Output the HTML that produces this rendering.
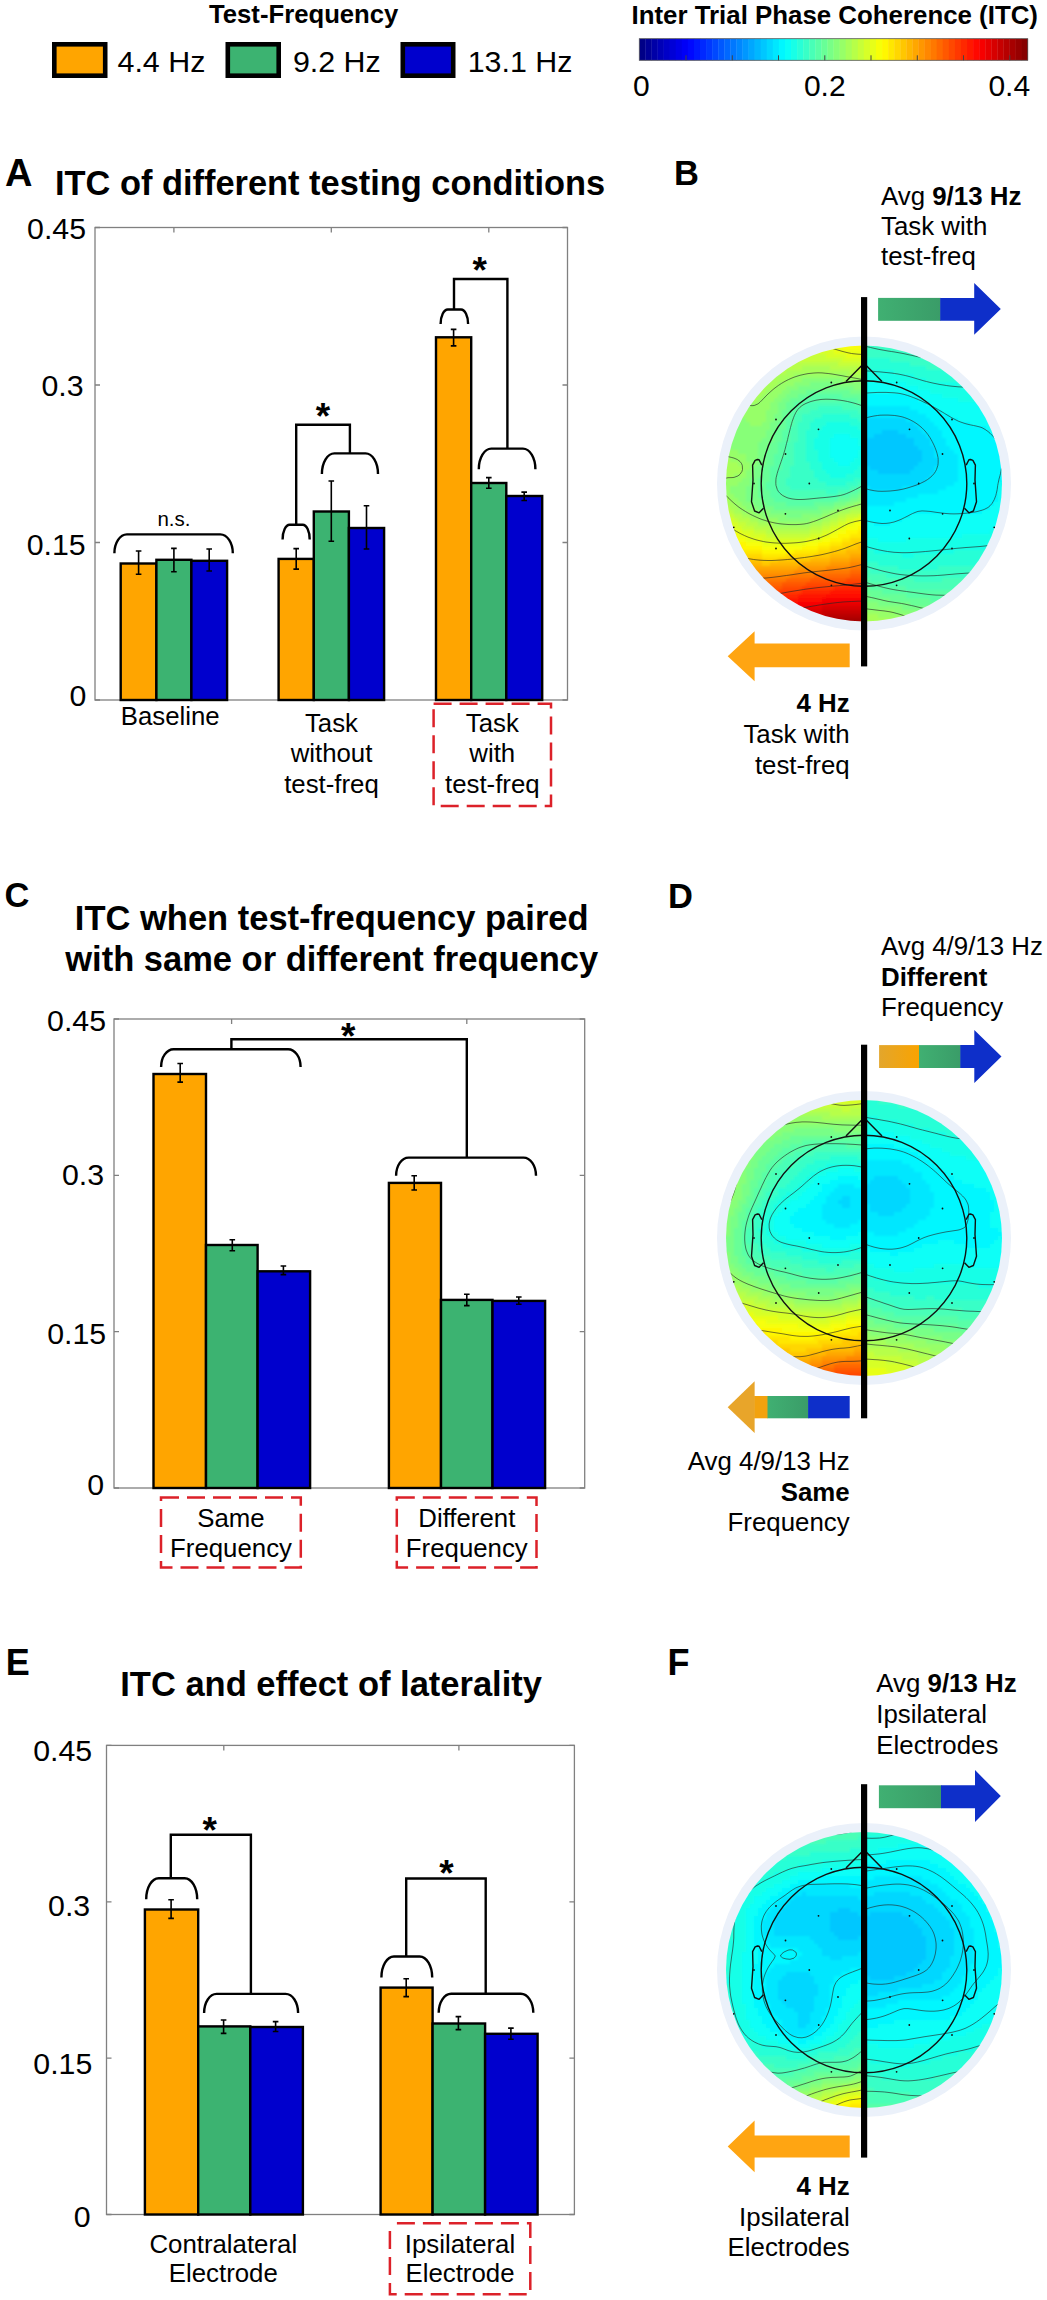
<!DOCTYPE html>
<html><head><meta charset="utf-8"><title>ITC figure</title>
<style>html,body{margin:0;padding:0;background:#fff;}svg{display:block;}text{font-family:"Liberation Sans",sans-serif;fill:#000;}</style>
</head><body>
<svg width="1047" height="2300" viewBox="0 0 1047 2300">
<rect width="1047" height="2300" fill="#fff"/>
<text x="209.0" y="22.8" font-size="25.7" font-weight="bold">Test-Frequency</text>
<rect x="54.3" y="44.3" width="50.9" height="31.4" fill="#FFA500" stroke="#000" stroke-width="4.6"/>
<text x="117.5" y="72.3" font-size="30.4">4.4 Hz</text>
<rect x="227.8" y="44.3" width="50.9" height="31.4" fill="#3CB371" stroke="#000" stroke-width="4.6"/>
<text x="292.9" y="72.3" font-size="30.4">9.2 Hz</text>
<rect x="402.8" y="44.3" width="50.4" height="31.4" fill="#0000CD" stroke="#000" stroke-width="4.6"/>
<text x="467.7" y="72.3" font-size="30.4">13.1 Hz</text>
<text x="631.5" y="24.2" font-size="25.85" font-weight="bold">Inter Trial Phase Coherence (ITC)</text>
<rect x="639.30" y="38.7" width="6.42" height="21.599999999999994" fill="#000087"/>
<rect x="645.37" y="38.7" width="6.42" height="21.599999999999994" fill="#000097"/>
<rect x="651.44" y="38.7" width="6.42" height="21.599999999999994" fill="#0000a7"/>
<rect x="657.51" y="38.7" width="6.42" height="21.599999999999994" fill="#0000b7"/>
<rect x="663.57" y="38.7" width="6.42" height="21.599999999999994" fill="#0000c7"/>
<rect x="669.64" y="38.7" width="6.42" height="21.599999999999994" fill="#0000d7"/>
<rect x="675.71" y="38.7" width="6.42" height="21.599999999999994" fill="#0000e7"/>
<rect x="681.78" y="38.7" width="6.42" height="21.599999999999994" fill="#0000f7"/>
<rect x="687.85" y="38.7" width="6.42" height="21.599999999999994" fill="#0008ff"/>
<rect x="693.92" y="38.7" width="6.42" height="21.599999999999994" fill="#0018ff"/>
<rect x="699.99" y="38.7" width="6.42" height="21.599999999999994" fill="#0028ff"/>
<rect x="706.06" y="38.7" width="6.42" height="21.599999999999994" fill="#0038ff"/>
<rect x="712.12" y="38.7" width="6.42" height="21.599999999999994" fill="#0048ff"/>
<rect x="718.19" y="38.7" width="6.42" height="21.599999999999994" fill="#0058ff"/>
<rect x="724.26" y="38.7" width="6.42" height="21.599999999999994" fill="#0068ff"/>
<rect x="730.33" y="38.7" width="6.42" height="21.599999999999994" fill="#0078ff"/>
<rect x="736.40" y="38.7" width="6.42" height="21.599999999999994" fill="#0087ff"/>
<rect x="742.47" y="38.7" width="6.42" height="21.599999999999994" fill="#0097ff"/>
<rect x="748.54" y="38.7" width="6.42" height="21.599999999999994" fill="#00a7ff"/>
<rect x="754.61" y="38.7" width="6.42" height="21.599999999999994" fill="#00b7ff"/>
<rect x="760.67" y="38.7" width="6.42" height="21.599999999999994" fill="#00c7ff"/>
<rect x="766.74" y="38.7" width="6.42" height="21.599999999999994" fill="#00d7ff"/>
<rect x="772.81" y="38.7" width="6.42" height="21.599999999999994" fill="#00e7ff"/>
<rect x="778.88" y="38.7" width="6.42" height="21.599999999999994" fill="#00f7ff"/>
<rect x="784.95" y="38.7" width="6.42" height="21.599999999999994" fill="#08fff7"/>
<rect x="791.02" y="38.7" width="6.42" height="21.599999999999994" fill="#18ffe7"/>
<rect x="797.09" y="38.7" width="6.42" height="21.599999999999994" fill="#28ffd7"/>
<rect x="803.16" y="38.7" width="6.42" height="21.599999999999994" fill="#38ffc7"/>
<rect x="809.23" y="38.7" width="6.42" height="21.599999999999994" fill="#48ffb7"/>
<rect x="815.29" y="38.7" width="6.42" height="21.599999999999994" fill="#58ffa7"/>
<rect x="821.36" y="38.7" width="6.42" height="21.599999999999994" fill="#68ff97"/>
<rect x="827.43" y="38.7" width="6.42" height="21.599999999999994" fill="#78ff87"/>
<rect x="833.50" y="38.7" width="6.42" height="21.599999999999994" fill="#87ff78"/>
<rect x="839.57" y="38.7" width="6.42" height="21.599999999999994" fill="#97ff68"/>
<rect x="845.64" y="38.7" width="6.42" height="21.599999999999994" fill="#a7ff58"/>
<rect x="851.71" y="38.7" width="6.42" height="21.599999999999994" fill="#b7ff48"/>
<rect x="857.77" y="38.7" width="6.42" height="21.599999999999994" fill="#c7ff38"/>
<rect x="863.84" y="38.7" width="6.42" height="21.599999999999994" fill="#d7ff28"/>
<rect x="869.91" y="38.7" width="6.42" height="21.599999999999994" fill="#e7ff18"/>
<rect x="875.98" y="38.7" width="6.42" height="21.599999999999994" fill="#f7ff08"/>
<rect x="882.05" y="38.7" width="6.42" height="21.599999999999994" fill="#fff700"/>
<rect x="888.12" y="38.7" width="6.42" height="21.599999999999994" fill="#ffe700"/>
<rect x="894.19" y="38.7" width="6.42" height="21.599999999999994" fill="#ffd700"/>
<rect x="900.26" y="38.7" width="6.42" height="21.599999999999994" fill="#ffc700"/>
<rect x="906.33" y="38.7" width="6.42" height="21.599999999999994" fill="#ffb700"/>
<rect x="912.39" y="38.7" width="6.42" height="21.599999999999994" fill="#ffa700"/>
<rect x="918.46" y="38.7" width="6.42" height="21.599999999999994" fill="#ff9700"/>
<rect x="924.53" y="38.7" width="6.42" height="21.599999999999994" fill="#ff8700"/>
<rect x="930.60" y="38.7" width="6.42" height="21.599999999999994" fill="#ff7800"/>
<rect x="936.67" y="38.7" width="6.42" height="21.599999999999994" fill="#ff6800"/>
<rect x="942.74" y="38.7" width="6.42" height="21.599999999999994" fill="#ff5800"/>
<rect x="948.81" y="38.7" width="6.42" height="21.599999999999994" fill="#ff4800"/>
<rect x="954.88" y="38.7" width="6.42" height="21.599999999999994" fill="#ff3800"/>
<rect x="960.94" y="38.7" width="6.42" height="21.599999999999994" fill="#ff2800"/>
<rect x="967.01" y="38.7" width="6.42" height="21.599999999999994" fill="#ff1800"/>
<rect x="973.08" y="38.7" width="6.42" height="21.599999999999994" fill="#ff0800"/>
<rect x="979.15" y="38.7" width="6.42" height="21.599999999999994" fill="#f70000"/>
<rect x="985.22" y="38.7" width="6.42" height="21.599999999999994" fill="#e70000"/>
<rect x="991.29" y="38.7" width="6.42" height="21.599999999999994" fill="#d70000"/>
<rect x="997.36" y="38.7" width="6.42" height="21.599999999999994" fill="#c70000"/>
<rect x="1003.43" y="38.7" width="6.42" height="21.599999999999994" fill="#b70000"/>
<rect x="1009.49" y="38.7" width="6.42" height="21.599999999999994" fill="#a70000"/>
<rect x="1015.56" y="38.7" width="6.42" height="21.599999999999994" fill="#970000"/>
<rect x="1021.63" y="38.7" width="6.42" height="21.599999999999994" fill="#870000"/>
<rect x="639.3" y="38.7" width="388.4000000000001" height="21.599999999999994" fill="none" stroke="#555" stroke-width="0.8"/>
<path d="M686.0 60.3v-5M732.3 60.3v-5M778.5 60.3v-5M824.8 60.3v-5M871.0 60.3v-5M917.3 60.3v-5M963.5 60.3v-5M1009.8 60.3v-5" stroke="#444" stroke-width="1"/>
<text x="641.3" y="95.6" font-size="30" text-anchor="middle">0</text>
<text x="824.8" y="95.6" font-size="30" text-anchor="middle">0.2</text>
<text x="1009.3" y="95.6" font-size="30" text-anchor="middle">0.4</text>
<text x="4.9" y="185.5" font-size="38" font-weight="bold">A</text>
<text x="674.0" y="185.1" font-size="34.5" font-weight="bold">B</text>
<text x="4.5" y="907.3" font-size="34.5" font-weight="bold">C</text>
<text x="668.1" y="908.0" font-size="34.5" font-weight="bold">D</text>
<text x="5.8" y="1675.1" font-size="36" font-weight="bold">E</text>
<text x="667.5" y="1675.1" font-size="36" font-weight="bold">F</text>
<text x="55.0" y="194.9" font-size="34.4" font-weight="bold">ITC of different testing conditions</text>
<text x="331.7" y="929.6" font-size="34.5" font-weight="bold" text-anchor="middle">ITC when test-frequency paired</text>
<text x="331.7" y="970.9" font-size="34.5" font-weight="bold" text-anchor="middle">with same or different frequency</text>
<text x="331.1" y="1696.0" font-size="34.5" font-weight="bold" text-anchor="middle">ITC and effect of laterality</text>
<text x="323.0" y="429.4" font-size="37" font-weight="bold" text-anchor="middle">*</text>
<text x="479.7" y="282.8" font-size="37" font-weight="bold" text-anchor="middle">*</text>
<text x="348.3" y="1049.4" font-size="37" font-weight="bold" text-anchor="middle">*</text>
<text x="209.7" y="1842.8" font-size="37" font-weight="bold" text-anchor="middle">*</text>
<text x="446.5" y="1885.6" font-size="37" font-weight="bold" text-anchor="middle">*</text>
<rect x="95" y="227.5" width="472.5" height="472.5" fill="none" stroke="#808080" stroke-width="1.3"/>
<path d="M95 700.0h5M567.5 700.0h-5M95 542.5h5M567.5 542.5h-5M95 385.0h5M567.5 385.0h-5M95 227.5h5M567.5 227.5h-5M173.9 227.5v5M173.9 700v-5M331.3 227.5v5M331.3 700v-5M488.8 227.5v5M488.8 700v-5" stroke="#808080" stroke-width="1.3"/>
<text x="86.3" y="706.2" font-size="30.3" text-anchor="end">0</text>
<text x="85.6" y="554.6" font-size="30.3" text-anchor="end">0.15</text>
<text x="83.5" y="396.2" font-size="30.3" text-anchor="end">0.3</text>
<text x="86.0" y="239.2" font-size="30.3" text-anchor="end">0.45</text>
<rect x="120.7" y="563.5" width="35.7" height="136.5" fill="#FFA500" stroke="#000" stroke-width="2.4"/>
<rect x="156.4" y="559.8" width="35.0" height="140.2" fill="#3CB371" stroke="#000" stroke-width="2.4"/>
<rect x="191.4" y="560.8" width="35.7" height="139.2" fill="#0000CD" stroke="#000" stroke-width="2.4"/>
<path d="M138.6 551.0V574.2M135.8 551.0H141.4M135.8 574.2H141.4" fill="none" stroke="#000" stroke-width="1.6"/>
<path d="M173.9 548.4V571.7M171.1 548.4H176.7M171.1 571.7H176.7" fill="none" stroke="#000" stroke-width="1.6"/>
<path d="M209.2 549.0V571.0M206.4 549.0H212.0M206.4 571.0H212.0" fill="none" stroke="#000" stroke-width="1.6"/>
<rect x="278.6" y="558.9" width="35.2" height="141.1" fill="#FFA500" stroke="#000" stroke-width="2.4"/>
<rect x="313.8" y="511.5" width="35.1" height="188.5" fill="#3CB371" stroke="#000" stroke-width="2.4"/>
<rect x="348.9" y="528.0" width="35.2" height="172.0" fill="#0000CD" stroke="#000" stroke-width="2.4"/>
<path d="M296.2 548.6V569.1M293.4 548.6H299.0M293.4 569.1H299.0" fill="none" stroke="#000" stroke-width="1.6"/>
<path d="M331.3 481.0V541.3M328.5 481.0H334.1M328.5 541.3H334.1" fill="none" stroke="#000" stroke-width="1.6"/>
<path d="M366.5 505.7V549.0M363.7 505.7H369.3M363.7 549.0H369.3" fill="none" stroke="#000" stroke-width="1.6"/>
<rect x="436.0" y="337.3" width="35.2" height="362.7" fill="#FFA500" stroke="#000" stroke-width="2.4"/>
<rect x="471.2" y="483.0" width="35.1" height="217.0" fill="#3CB371" stroke="#000" stroke-width="2.4"/>
<rect x="506.3" y="496.0" width="35.9" height="204.0" fill="#0000CD" stroke="#000" stroke-width="2.4"/>
<path d="M453.6 329.4V345.9M450.8 329.4H456.4M450.8 345.9H456.4" fill="none" stroke="#000" stroke-width="1.6"/>
<path d="M488.8 477.6V488.3M486.0 477.6H491.6M486.0 488.3H491.6" fill="none" stroke="#000" stroke-width="1.6"/>
<path d="M524.2 492.1V500.5M521.4 492.1H527.0M521.4 500.5H527.0" fill="none" stroke="#000" stroke-width="1.6"/>
<path d="M114.4 553.2A12.5 18.8 0 0 1 126.9 534.4L220.3 534.4A12.5 18.8 0 0 1 232.8 553.2" fill="none" stroke="#000" stroke-width="2.4"/>
<text x="173.9" y="526.4" font-size="20.5" text-anchor="middle">n.s.</text>
<path d="M282.6 539.5A7.0 14.7 0 0 1 289.6 524.8L302.7 524.8A7.0 14.7 0 0 1 309.7 539.5" fill="none" stroke="#000" stroke-width="2.4"/>
<path d="M296.2 524.8V424.8H349.9V453.4" fill="none" stroke="#000" stroke-width="2.4" stroke-linejoin="miter"/>
<path d="M321.9 474.0A12.5 20.6 0 0 1 334.4 453.4L365.5 453.4A12.5 20.6 0 0 1 378.0 474.0" fill="none" stroke="#000" stroke-width="2.4"/>
<path d="M440.6 324.0A7.2 14.5 0 0 1 447.8 309.5L461.0 309.5A7.2 14.5 0 0 1 468.1 324.0" fill="none" stroke="#000" stroke-width="2.4"/>
<path d="M454.0 309.5V279.0H507.4V448.6" fill="none" stroke="#000" stroke-width="2.4" stroke-linejoin="miter"/>
<path d="M478.8 469.2A12.5 20.6 0 0 1 491.3 448.6L522.9 448.6A12.5 20.6 0 0 1 535.4 469.2" fill="none" stroke="#000" stroke-width="2.4"/>
<text x="170.2" y="725.0" font-size="25.8" text-anchor="middle">Baseline</text>
<text x="331.5" y="731.5" font-size="25.8" text-anchor="middle">Task</text>
<text x="331.5" y="762.1" font-size="25.8" text-anchor="middle">without</text>
<text x="331.5" y="792.7" font-size="25.8" text-anchor="middle">test-freq</text>
<text x="492.3" y="731.5" font-size="25.8" text-anchor="middle">Task</text>
<text x="492.3" y="762.1" font-size="25.8" text-anchor="middle">with</text>
<text x="492.3" y="792.7" font-size="25.8" text-anchor="middle">test-freq</text>
<rect x="433.6" y="703.8" width="117.4" height="102.3" fill="none" stroke="#DC2129" stroke-width="2.5" stroke-dasharray="18 8" stroke-dashoffset="0"/>
<rect x="114" y="1019" width="470.70000000000005" height="469" fill="none" stroke="#808080" stroke-width="1.3"/>
<path d="M114 1488.0h5M584.7 1488.0h-5M114 1331.7h5M584.7 1331.7h-5M114 1175.3h5M584.7 1175.3h-5M114 1019.0h5M584.7 1019.0h-5M231.6 1019v5M231.6 1488v-5M466.8 1019v5M466.8 1488v-5" stroke="#808080" stroke-width="1.3"/>
<text x="104.0" y="1495.3" font-size="30.3" text-anchor="end">0</text>
<text x="106.2" y="1343.5" font-size="30.3" text-anchor="end">0.15</text>
<text x="104.0" y="1185.2" font-size="30.3" text-anchor="end">0.3</text>
<text x="106.0" y="1030.5" font-size="30.3" text-anchor="end">0.45</text>
<rect x="153.5" y="1074.0" width="52.5" height="414.0" fill="#FFA500" stroke="#000" stroke-width="2.4"/>
<rect x="206.0" y="1245.0" width="51.6" height="243.0" fill="#3CB371" stroke="#000" stroke-width="2.4"/>
<rect x="257.6" y="1271.3" width="52.5" height="216.7" fill="#0000CD" stroke="#000" stroke-width="2.4"/>
<path d="M180.2 1063.5V1082.1M177.4 1063.5H183.0M177.4 1082.1H183.0" fill="none" stroke="#000" stroke-width="1.6"/>
<path d="M232.3 1239.7V1250.7M229.5 1239.7H235.1M229.5 1250.7H235.1" fill="none" stroke="#000" stroke-width="1.6"/>
<path d="M283.4 1266.0V1274.6M280.6 1266.0H286.2M280.6 1274.6H286.2" fill="none" stroke="#000" stroke-width="1.6"/>
<rect x="388.9" y="1182.9" width="52.1" height="305.1" fill="#FFA500" stroke="#000" stroke-width="2.4"/>
<rect x="441.0" y="1299.9" width="51.5" height="188.1" fill="#3CB371" stroke="#000" stroke-width="2.4"/>
<rect x="492.5" y="1300.9" width="52.6" height="187.1" fill="#0000CD" stroke="#000" stroke-width="2.4"/>
<path d="M414.2 1175.7V1190.0M411.4 1175.7H417.0M411.4 1190.0H417.0" fill="none" stroke="#000" stroke-width="1.6"/>
<path d="M466.8 1294.2V1305.6M464.0 1294.2H469.6M464.0 1305.6H469.6" fill="none" stroke="#000" stroke-width="1.6"/>
<path d="M518.8 1297.0V1304.2M516.0 1297.0H521.6M516.0 1304.2H521.6" fill="none" stroke="#000" stroke-width="1.6"/>
<path d="M161.1 1066.9A12.5 17.7 0 0 1 173.6 1049.2L288.1 1049.2A12.5 17.7 0 0 1 300.6 1066.9" fill="none" stroke="#000" stroke-width="2.4"/>
<path d="M231.4 1049.2V1039.2H466.8V1157.6" fill="none" stroke="#000" stroke-width="2.4" stroke-linejoin="miter"/>
<path d="M396.1 1175.7A12.5 18.1 0 0 1 408.6 1157.6L523.5 1157.6A12.5 18.1 0 0 1 536.0 1175.7" fill="none" stroke="#000" stroke-width="2.4"/>
<rect x="161.0" y="1497.6" width="139.8" height="69.9" fill="none" stroke="#DC2129" stroke-width="2.5" stroke-dasharray="18 8" stroke-dashoffset="0"/>
<rect x="396.8" y="1497.6" width="139.7" height="69.9" fill="none" stroke="#DC2129" stroke-width="2.5" stroke-dasharray="18 8" stroke-dashoffset="0"/>
<text x="231.0" y="1527.2" font-size="25.8" text-anchor="middle">Same</text>
<text x="231.0" y="1557.4" font-size="25.8" text-anchor="middle">Frequency</text>
<text x="466.8" y="1527.2" font-size="25.8" text-anchor="middle">Different</text>
<text x="466.8" y="1557.4" font-size="25.8" text-anchor="middle">Frequency</text>
<rect x="106.5" y="1745.4" width="467.9" height="469.0999999999999" fill="none" stroke="#808080" stroke-width="1.3"/>
<path d="M106.5 2214.5h5M574.4 2214.5h-5M106.5 2058.1h5M574.4 2058.1h-5M106.5 1901.8h5M574.4 1901.8h-5M106.5 1745.4h5M574.4 1745.4h-5M223.8 1745.4v5M223.8 2214.5v-5M458.9 1745.4v5M458.9 2214.5v-5" stroke="#808080" stroke-width="1.3"/>
<text x="90.5" y="2227.1" font-size="30.3" text-anchor="end">0</text>
<text x="92.3" y="2074.4" font-size="30.3" text-anchor="end">0.15</text>
<text x="90.2" y="1916.2" font-size="30.3" text-anchor="end">0.3</text>
<text x="92.2" y="1761.4" font-size="30.3" text-anchor="end">0.45</text>
<rect x="144.9" y="1909.5" width="53.3" height="305.0" fill="#FFA500" stroke="#000" stroke-width="2.4"/>
<rect x="198.2" y="2026.4" width="52.1" height="188.1" fill="#3CB371" stroke="#000" stroke-width="2.4"/>
<rect x="250.3" y="2027.0" width="52.6" height="187.5" fill="#0000CD" stroke="#000" stroke-width="2.4"/>
<path d="M171.1 1899.7V1918.4M168.3 1899.7H173.9M168.3 1918.4H173.9" fill="none" stroke="#000" stroke-width="1.6"/>
<path d="M223.6 2020.0V2033.4M220.8 2020.0H226.4M220.8 2033.4H226.4" fill="none" stroke="#000" stroke-width="1.6"/>
<path d="M275.6 2021.6V2031.5M272.8 2021.6H278.4M272.8 2031.5H278.4" fill="none" stroke="#000" stroke-width="1.6"/>
<rect x="380.6" y="1987.6" width="52.0" height="226.9" fill="#FFA500" stroke="#000" stroke-width="2.4"/>
<rect x="432.6" y="2023.5" width="52.5" height="191.0" fill="#3CB371" stroke="#000" stroke-width="2.4"/>
<rect x="485.1" y="2033.8" width="52.5" height="180.7" fill="#0000CD" stroke="#000" stroke-width="2.4"/>
<path d="M406.2 1978.8V1996.6M403.4 1978.8H409.0M403.4 1996.6H409.0" fill="none" stroke="#000" stroke-width="1.6"/>
<path d="M458.4 2016.6V2029.6M455.6 2016.6H461.2M455.6 2029.6H461.2" fill="none" stroke="#000" stroke-width="1.6"/>
<path d="M510.9 2028.1V2039.2M508.1 2028.1H513.7M508.1 2039.2H513.7" fill="none" stroke="#000" stroke-width="1.6"/>
<path d="M146.2 1899.3A12.5 21.0 0 0 1 158.7 1878.3L184.7 1878.3A12.5 21.0 0 0 1 197.2 1899.3" fill="none" stroke="#000" stroke-width="2.4"/>
<path d="M170.8 1878.3V1834.8H250.9V1993.9" fill="none" stroke="#000" stroke-width="2.4" stroke-linejoin="miter"/>
<path d="M204.1 2013.0A12.5 19.1 0 0 1 216.6 1993.9L285.6 1993.9A12.5 19.1 0 0 1 298.1 2013.0" fill="none" stroke="#000" stroke-width="2.4"/>
<path d="M381.4 1977.5A12.5 21.0 0 0 1 393.9 1956.5L419.7 1956.5A12.5 21.0 0 0 1 432.2 1977.5" fill="none" stroke="#000" stroke-width="2.4"/>
<path d="M406.2 1956.5V1878.5H485.7V1993.7" fill="none" stroke="#000" stroke-width="2.4" stroke-linejoin="miter"/>
<path d="M438.7 2012.8A12.5 19.1 0 0 1 451.2 1993.7L520.8 1993.7A12.5 19.1 0 0 1 533.3 2012.8" fill="none" stroke="#000" stroke-width="2.4"/>
<text x="223.3" y="2253.0" font-size="25.8" text-anchor="middle">Contralateral</text>
<text x="223.3" y="2282.2" font-size="25.8" text-anchor="middle">Electrode</text>
<rect x="389.9" y="2223.3" width="140.4" height="71.0" fill="none" stroke="#DC2129" stroke-width="2.5" stroke-dasharray="18 8" stroke-dashoffset="19"/>
<text x="460.0" y="2253.0" font-size="25.8" text-anchor="middle">Ipsilateral</text>
<text x="460.0" y="2282.2" font-size="25.8" text-anchor="middle">Electrode</text>
<text x="881" y="204.7" font-size="25.85">Avg <tspan font-weight="bold">9/13 Hz</tspan></text>
<text x="881.0" y="235.0" font-size="25.85">Task with</text>
<text x="881.0" y="265.3" font-size="25.85">test-freq</text>
<text x="849.7" y="711.5" font-size="25.85" font-weight="bold" text-anchor="end">4 Hz</text>
<text x="849.7" y="743.0" font-size="25.85" text-anchor="end">Task with</text>
<text x="849.7" y="773.6" font-size="25.85" text-anchor="end">test-freq</text>
<text x="881.0" y="955.4" font-size="25.85">Avg 4/9/13 Hz</text>
<text x="881.0" y="985.7" font-size="25.85" font-weight="bold">Different</text>
<text x="881.0" y="1016.0" font-size="25.85">Frequency</text>
<text x="849.7" y="1470.0" font-size="25.85" text-anchor="end">Avg 4/9/13 Hz</text>
<text x="849.7" y="1500.7" font-size="25.85" font-weight="bold" text-anchor="end">Same</text>
<text x="849.7" y="1531.0" font-size="25.85" text-anchor="end">Frequency</text>
<text x="876.3" y="1691.8" font-size="25.85">Avg <tspan font-weight="bold">9/13 Hz</tspan></text>
<text x="876.3" y="1723.2" font-size="25.85">Ipsilateral</text>
<text x="876.3" y="1753.9" font-size="25.85">Electrodes</text>
<text x="849.7" y="2194.5" font-size="25.85" font-weight="bold" text-anchor="end">4 Hz</text>
<text x="849.7" y="2226.0" font-size="25.85" text-anchor="end">Ipsilateral</text>
<text x="849.7" y="2255.5" font-size="25.85" text-anchor="end">Electrodes</text>
<clipPath id="clipB"><circle cx="864" cy="483.5" r="138.0"/></clipPath>
<circle cx="864" cy="483.5" r="147" fill="#EBF1FA"/>
<filter id="fbB" x="-5%" y="-5%" width="110%" height="110%"><feGaussianBlur stdDeviation="1.1"/></filter>
<g clip-path="url(#clipB)"><g filter="url(#fbB)">
<path fill="#f7ff08" d="M842 342h8v4h-8zM842 346h22v4h-22zM854 522h10v4h-10zM846 526h12v4h-12zM838 530h8v4h-8zM730 534h8v4h-8zM830 534h8v4h-8zM734 538h12v4h-12zM822 538h8v4h-8zM746 542h16v4h-16zM806 542h12v4h-12zM762 546h40v4h-40z"/>
<path fill="#fff700" d="M850 342h14v4h-14zM858 526h6v4h-6zM846 530h12v4h-12zM838 534h12v4h-12zM830 538h12v4h-12zM734 542h12v4h-12zM818 542h12v4h-12zM742 546h20v4h-20zM802 546h16v4h-16zM762 550h32v4h-32z"/>
<path fill="#e7ff18" d="M822 346h20v4h-20zM834 350h30v4h-30zM846 354h18v4h-18zM854 518h10v4h-10zM726 522h4v4h-4zM846 522h8v4h-8zM730 526h4v4h-4zM838 526h8v4h-8zM730 530h12v4h-12zM830 530h8v4h-8zM738 534h12v4h-12zM822 534h8v4h-8zM746 538h16v4h-16zM806 538h16v4h-16zM762 542h44v4h-44z"/>
<path fill="#d7ff28" d="M810 350h24v4h-24zM826 354h20v4h-20zM842 358h22v4h-22zM858 514h6v4h-6zM726 518h8v4h-8zM846 518h8v4h-8zM730 522h8v4h-8zM838 522h8v4h-8zM734 526h8v4h-8zM830 526h8v4h-8zM742 530h12v4h-12zM822 530h8v4h-8zM750 534h16v4h-16zM810 534h12v4h-12zM762 538h44v4h-44z"/>
<path fill="#c7ff38" d="M802 354h24v4h-24zM794 358h48v4h-48zM838 362h26v4h-26zM858 366h6v4h-6zM726 510h4v4h-4zM862 510h2v4h-2zM726 514h8v4h-8zM846 514h12v4h-12zM734 518h4v4h-4zM838 518h8v4h-8zM738 522h8v4h-8zM830 522h8v4h-8zM742 526h12v4h-12zM822 526h8v4h-8zM754 530h12v4h-12zM810 530h12v4h-12zM766 534h44v4h-44z"/>
<path fill="#b7ff48" d="M790 362h48v4h-48zM782 366h20v4h-20zM830 366h28v4h-28zM778 370h8v4h-8zM850 370h14v4h-14zM770 374h4v4h-4zM722 502h4v4h-4zM726 506h4v4h-4zM862 506h2v4h-2zM730 510h4v4h-4zM850 510h12v4h-12zM734 514h8v4h-8zM838 514h8v4h-8zM738 518h12v4h-12zM830 518h8v4h-8zM746 522h12v4h-12zM822 522h8v4h-8zM754 526h16v4h-16zM810 526h12v4h-12zM766 530h44v4h-44z"/>
<path fill="#a7ff58" d="M802 366h28v4h-28zM786 370h64v4h-64zM774 374h20v4h-20zM846 374h18v4h-18zM766 378h20v4h-20zM762 382h16v4h-16zM758 386h16v4h-16zM754 390h12v4h-12zM754 394h8v4h-8zM750 398h8v4h-8zM726 458h4v4h-4zM722 462h16v4h-16zM722 466h20v4h-20zM722 470h20v4h-20zM722 474h12v4h-12zM722 494h4v4h-4zM722 498h8v4h-8zM726 502h8v4h-8zM730 506h8v4h-8zM850 506h12v4h-12zM734 510h8v4h-8zM838 510h12v4h-12zM742 514h8v4h-8zM830 514h8v4h-8zM750 518h8v4h-8zM822 518h8v4h-8zM758 522h16v4h-16zM810 522h12v4h-12zM770 526h40v4h-40z"/>
<path fill="#97ff68" d="M794 374h52v4h-52zM786 378h16v4h-16zM842 378h22v4h-22zM778 382h16v4h-16zM862 382h2v4h-2zM774 386h12v4h-12zM766 390h16v4h-16zM762 394h16v4h-16zM758 398h16v4h-16zM746 402h24v4h-24zM746 406h24v4h-24zM742 410h24v4h-24zM738 414h28v4h-28zM746 418h20v4h-20zM750 422h12v4h-12zM726 446h4v4h-4zM726 450h12v4h-12zM726 454h20v4h-20zM730 458h16v4h-16zM738 462h12v4h-12zM742 466h8v4h-8zM742 470h4v4h-4zM734 474h12v4h-12zM722 478h20v4h-20zM722 482h16v4h-16zM722 486h8v4h-8zM722 490h8v4h-8zM726 494h8v4h-8zM730 498h8v4h-8zM734 502h8v4h-8zM854 502h10v4h-10zM738 506h8v4h-8zM842 506h8v4h-8zM742 510h12v4h-12zM830 510h8v4h-8zM750 514h12v4h-12zM822 514h8v4h-8zM758 518h20v4h-20zM810 518h12v4h-12zM774 522h36v4h-36z"/>
<path fill="#87ff78" d="M802 378h40v4h-40zM794 382h16v4h-16zM834 382h28v4h-28zM786 386h12v4h-12zM854 386h10v4h-10zM782 390h8v4h-8zM778 394h8v4h-8zM774 398h8v4h-8zM770 402h8v4h-8zM770 406h8v4h-8zM766 410h12v4h-12zM766 414h8v4h-8zM738 418h8v4h-8zM766 418h8v4h-8zM734 422h16v4h-16zM762 422h8v4h-8zM734 426h36v4h-36zM730 430h36v4h-36zM730 434h36v4h-36zM730 438h32v4h-32zM726 442h32v4h-32zM730 446h28v4h-28zM738 450h20v4h-20zM746 454h12v4h-12zM746 458h12v4h-12zM750 462h8v4h-8zM750 466h4v4h-4zM746 470h8v4h-8zM746 474h8v4h-8zM742 478h8v4h-8zM738 482h12v4h-12zM730 486h16v4h-16zM730 490h16v4h-16zM734 494h12v4h-12zM738 498h8v4h-8zM858 498h6v4h-6zM742 502h12v4h-12zM846 502h8v4h-8zM746 506h12v4h-12zM834 506h8v4h-8zM754 510h16v4h-16zM822 510h8v4h-8zM762 514h24v4h-24zM802 514h20v4h-20zM778 518h32v4h-32z"/>
<path fill="#78ff87" d="M810 382h24v4h-24zM798 386h56v4h-56zM790 390h16v4h-16zM850 390h14v4h-14zM786 394h12v4h-12zM782 398h8v4h-8zM778 402h8v4h-8zM778 406h8v4h-8zM778 410h4v4h-4zM774 414h8v4h-8zM774 418h8v4h-8zM770 422h8v4h-8zM770 426h8v4h-8zM766 430h8v4h-8zM766 434h8v4h-8zM762 438h12v4h-12zM758 442h12v4h-12zM758 446h12v4h-12zM758 450h8v4h-8zM758 454h8v4h-8zM758 458h8v4h-8zM758 462h8v4h-8zM754 466h8v4h-8zM754 470h8v4h-8zM754 474h8v4h-8zM750 478h8v4h-8zM750 482h8v4h-8zM746 486h12v4h-12zM746 490h12v4h-12zM746 494h12v4h-12zM858 494h6v4h-6zM746 498h16v4h-16zM850 498h8v4h-8zM754 502h12v4h-12zM834 502h12v4h-12zM758 506h16v4h-16zM818 506h16v4h-16zM770 510h52v4h-52zM786 514h16v4h-16z"/>
<path fill="#68ff97" d="M806 390h44v4h-44zM798 394h12v4h-12zM842 394h22v4h-22zM790 398h12v4h-12zM858 398h6v4h-6zM786 402h8v4h-8zM786 406h8v4h-8zM782 410h8v4h-8zM782 414h8v4h-8zM782 418h4v4h-4zM778 422h8v4h-8zM778 426h8v4h-8zM774 430h8v4h-8zM774 434h8v4h-8zM774 438h8v4h-8zM770 442h8v4h-8zM770 446h8v4h-8zM766 450h12v4h-12zM766 454h8v4h-8zM766 458h8v4h-8zM766 462h8v4h-8zM762 466h8v4h-8zM762 470h8v4h-8zM762 474h8v4h-8zM758 478h12v4h-12zM758 482h8v4h-8zM758 486h8v4h-8zM758 490h12v4h-12zM858 490h6v4h-6zM758 494h12v4h-12zM850 494h8v4h-8zM762 498h12v4h-12zM838 498h12v4h-12zM766 502h20v4h-20zM814 502h20v4h-20zM774 506h44v4h-44z"/>
<path fill="#58ffa7" d="M810 394h32v4h-32zM802 398h56v4h-56zM794 402h12v4h-12zM854 402h10v4h-10zM794 406h8v4h-8zM790 410h8v4h-8zM790 414h4v4h-4zM786 418h8v4h-8zM786 422h8v4h-8zM786 426h4v4h-4zM782 430h8v4h-8zM782 434h8v4h-8zM782 438h8v4h-8zM778 442h8v4h-8zM778 446h8v4h-8zM778 450h8v4h-8zM774 454h12v4h-12zM774 458h8v4h-8zM774 462h8v4h-8zM770 466h12v4h-12zM770 470h8v4h-8zM770 474h8v4h-8zM770 478h8v4h-8zM766 482h12v4h-12zM766 486h12v4h-12zM858 486h6v4h-6zM770 490h8v4h-8zM850 490h8v4h-8zM770 494h16v4h-16zM838 494h12v4h-12zM774 498h64v4h-64zM786 502h28v4h-28z"/>
<path fill="#48ffb7" d="M806 402h48v4h-48zM802 406h16v4h-16zM842 406h22v4h-22zM798 410h12v4h-12zM858 410h6v4h-6zM794 414h8v4h-8zM794 418h8v4h-8zM794 422h4v4h-4zM790 426h8v4h-8zM790 430h8v4h-8zM790 434h8v4h-8zM790 438h8v4h-8zM786 442h8v4h-8zM786 446h8v4h-8zM786 450h8v4h-8zM786 454h8v4h-8zM782 458h12v4h-12zM782 462h12v4h-12zM782 466h8v4h-8zM778 470h12v4h-12zM778 474h12v4h-12zM778 478h8v4h-8zM862 478h2v4h-2zM778 482h8v4h-8zM858 482h6v4h-6zM778 486h12v4h-12zM850 486h8v4h-8zM778 490h48v4h-48zM838 490h12v4h-12zM786 494h52v4h-52z"/>
<path fill="#38ffc7" d="M818 406h24v4h-24zM810 410h48v4h-48zM802 414h20v4h-20zM850 414h14v4h-14zM802 418h12v4h-12zM858 418h6v4h-6zM798 422h12v4h-12zM798 426h12v4h-12zM798 430h8v4h-8zM798 434h8v4h-8zM798 438h8v4h-8zM794 442h12v4h-12zM794 446h12v4h-12zM794 450h12v4h-12zM794 454h12v4h-12zM794 458h12v4h-12zM794 462h16v4h-16zM790 466h20v4h-20zM790 470h24v4h-24zM790 474h24v4h-24zM862 474h2v4h-2zM786 478h32v4h-32zM854 478h8v4h-8zM786 482h40v4h-40zM846 482h12v4h-12zM790 486h60v4h-60zM826 490h12v4h-12z"/>
<path fill="#28ffd7" d="M822 414h28v4h-28zM814 418h44v4h-44zM810 422h16v4h-16zM850 422h14v4h-14zM810 426h12v4h-12zM858 426h6v4h-6zM806 430h12v4h-12zM862 430h2v4h-2zM806 434h12v4h-12zM806 438h8v4h-8zM806 442h8v4h-8zM806 446h8v4h-8zM806 450h12v4h-12zM806 454h12v4h-12zM806 458h12v4h-12zM810 462h12v4h-12zM862 462h2v4h-2zM810 466h12v4h-12zM858 466h6v4h-6zM814 470h12v4h-12zM854 470h10v4h-10zM814 474h16v4h-16zM846 474h16v4h-16zM818 478h36v4h-36zM826 482h20v4h-20z"/>
<path fill="#18ffe7" d="M826 422h24v4h-24zM822 426h36v4h-36zM818 430h44v4h-44zM818 434h16v4h-16zM850 434h14v4h-14zM814 438h16v4h-16zM858 438h6v4h-6zM814 442h16v4h-16zM858 442h6v4h-6zM814 446h16v4h-16zM862 446h2v4h-2zM818 450h12v4h-12zM858 450h6v4h-6zM818 454h12v4h-12zM858 454h6v4h-6zM818 458h16v4h-16zM854 458h10v4h-10zM822 462h16v4h-16zM850 462h12v4h-12zM822 466h36v4h-36zM826 470h28v4h-28zM830 474h16v4h-16z"/>
<path fill="#08fff7" d="M834 434h16v4h-16zM830 438h28v4h-28zM830 442h28v4h-28zM830 446h32v4h-32zM830 450h28v4h-28zM830 454h28v4h-28zM834 458h20v4h-20zM838 462h12v4h-12z"/>
<path fill="#ffe700" d="M858 530h6v4h-6zM850 534h12v4h-12zM842 538h8v4h-8zM830 542h12v4h-12zM738 546h4v4h-4zM818 546h12v4h-12zM742 550h20v4h-20zM794 550h24v4h-24zM762 554h24v4h-24z"/>
<path fill="#ffd700" d="M862 534h2v4h-2zM850 538h14v4h-14zM842 542h12v4h-12zM830 546h16v4h-16zM738 550h4v4h-4zM818 550h12v4h-12zM742 554h20v4h-20zM786 554h28v4h-28zM762 558h16v4h-16z"/>
<path fill="#ffc700" d="M854 542h10v4h-10zM846 546h12v4h-12zM830 550h16v4h-16zM814 554h16v4h-16zM746 558h16v4h-16zM778 558h32v4h-32zM762 562h8v4h-8z"/>
<path fill="#ffb700" d="M858 546h6v4h-6zM846 550h16v4h-16zM830 554h20v4h-20zM810 558h20v4h-20zM746 562h16v4h-16zM770 562h32v4h-32z"/>
<path fill="#ffa700" d="M862 550h2v4h-2zM850 554h12v4h-12zM830 558h20v4h-20zM802 562h28v4h-28zM750 566h48v4h-48z"/>
<path fill="#ff9700" d="M862 554h2v4h-2zM850 558h14v4h-14zM830 562h20v4h-20zM798 566h28v4h-28zM754 570h40v4h-40z"/>
<path fill="#ff8700" d="M850 562h14v4h-14zM826 566h24v4h-24zM794 570h28v4h-28zM754 574h36v4h-36z"/>
<path fill="#ff7800" d="M850 566h14v4h-14zM822 570h28v4h-28zM790 574h24v4h-24zM758 578h28v4h-28z"/>
<path fill="#ff6800" d="M850 570h14v4h-14zM814 574h36v4h-36zM786 578h24v4h-24zM762 582h20v4h-20z"/>
<path fill="#ff5800" d="M850 574h14v4h-14zM810 578h36v4h-36zM782 582h24v4h-24zM766 586h16v4h-16z"/>
<path fill="#ff4800" d="M846 578h18v4h-18zM806 582h36v4h-36zM782 586h20v4h-20zM770 590h8v4h-8z"/>
<path fill="#ff3800" d="M842 582h22v4h-22zM802 586h32v4h-32zM778 590h24v4h-24z"/>
<path fill="#ff2800" d="M834 586h30v4h-30zM802 590h28v4h-28zM778 594h20v4h-20z"/>
<path fill="#ff1800" d="M830 590h34v4h-34zM798 594h28v4h-28zM782 598h16v4h-16z"/>
<path fill="#ff0800" d="M826 594h38v4h-38zM798 598h24v4h-24zM790 602h8v4h-8z"/>
<path fill="#f70000" d="M822 598h42v4h-42zM798 602h24v4h-24zM794 606h4v4h-4z"/>
<path fill="#e70000" d="M822 602h42v4h-42zM798 606h24v4h-24z"/>
<path fill="#d70000" d="M822 606h42v4h-42zM802 610h20v4h-20z"/>
<path fill="#c70000" d="M822 610h42v4h-42zM810 614h16v4h-16z"/>
<path fill="#b70000" d="M826 614h38v4h-38zM822 618h4v4h-4z"/>
<path fill="#a70000" d="M826 618h38v4h-38z"/>
<path fill="#970000" d="M842 622h22v4h-22z"/>
<path fill="#38ffc7" d="M864 342h14v4h-14zM864 346h34v4h-34zM864 350h54v4h-54zM866 354h60v4h-60zM890 358h44v4h-44zM910 362h28v4h-28zM926 366h20v4h-20zM864 558h2v4h-2zM864 562h14v4h-14zM864 566h34v4h-34zM938 566h40v4h-40zM870 570h104v4h-104zM886 574h88v4h-88zM914 578h28v4h-28z"/>
<path fill="#48ffb7" d="M878 342h8v4h-8zM898 346h8v4h-8zM864 570h6v4h-6zM864 574h22v4h-22zM870 578h44v4h-44zM942 578h28v4h-28zM882 582h84v4h-84zM906 586h56v4h-56z"/>
<path fill="#28ffd7" d="M864 354h2v4h-2zM864 358h26v4h-26zM864 362h46v4h-46zM864 366h62v4h-62zM894 370h56v4h-56zM914 374h44v4h-44zM926 378h36v4h-36zM958 382h8v4h-8zM864 550h10v4h-10zM954 550h36v4h-36zM864 554h38v4h-38zM914 554h72v4h-72zM866 558h116v4h-116zM878 562h104v4h-104zM898 566h40v4h-40z"/>
<path fill="#18ffe7" d="M864 370h30v4h-30zM864 374h50v4h-50zM864 378h62v4h-62zM906 382h52v4h-52zM918 386h52v4h-52zM930 390h44v4h-44zM942 394h32v4h-32zM958 398h20v4h-20zM990 530h8v4h-8zM962 534h36v4h-36zM864 538h14v4h-14zM906 538h88v4h-88zM864 542h130v4h-130zM864 546h126v4h-126zM874 550h80v4h-80zM902 554h12v4h-12z"/>
<path fill="#08fff7" d="M864 382h42v4h-42zM864 386h54v4h-54zM864 390h66v4h-66zM910 394h32v4h-32zM918 398h40v4h-40zM926 402h56v4h-56zM934 406h48v4h-48zM942 410h44v4h-44zM950 414h40v4h-40zM958 418h32v4h-32zM970 422h24v4h-24zM986 426h8v4h-8zM990 430h8v4h-8zM994 434h4v4h-4zM1002 466h4v4h-4zM1002 470h4v4h-4zM1002 474h4v4h-4zM1002 478h4v4h-4zM998 482h8v4h-8zM998 486h8v4h-8zM998 490h8v4h-8zM998 494h8v4h-8zM998 498h8v4h-8zM994 502h12v4h-12zM990 506h12v4h-12zM982 510h20v4h-20zM910 514h92v4h-92zM902 518h100v4h-100zM864 522h10v4h-10zM890 522h112v4h-112zM864 526h134v4h-134zM864 530h126v4h-126zM864 534h98v4h-98zM878 538h28v4h-28z"/>
<path fill="#00f7ff" d="M864 394h46v4h-46zM864 398h54v4h-54zM864 402h62v4h-62zM910 406h24v4h-24zM918 410h24v4h-24zM926 414h24v4h-24zM930 418h28v4h-28zM934 422h36v4h-36zM938 426h48v4h-48zM942 430h48v4h-48zM942 434h52v4h-52zM946 438h52v4h-52zM946 442h56v4h-56zM950 446h52v4h-52zM954 450h48v4h-48zM958 454h44v4h-44zM958 458h44v4h-44zM958 462h48v4h-48zM958 466h44v4h-44zM958 470h44v4h-44zM958 474h44v4h-44zM958 478h44v4h-44zM954 482h44v4h-44zM946 486h52v4h-52zM938 490h60v4h-60zM918 494h80v4h-80zM906 498h92v4h-92zM894 502h100v4h-100zM864 506h126v4h-126zM864 510h118v4h-118zM864 514h46v4h-46zM864 518h38v4h-38zM874 522h16v4h-16z"/>
<path fill="#00e7ff" d="M864 406h46v4h-46zM864 410h54v4h-54zM864 414h62v4h-62zM864 418h2v4h-2zM906 418h24v4h-24zM914 422h20v4h-20zM918 426h20v4h-20zM922 430h20v4h-20zM926 434h16v4h-16zM930 438h16v4h-16zM930 442h16v4h-16zM934 446h16v4h-16zM934 450h20v4h-20zM934 454h24v4h-24zM938 458h20v4h-20zM938 462h20v4h-20zM934 466h24v4h-24zM934 470h24v4h-24zM930 474h28v4h-28zM926 478h32v4h-32zM918 482h36v4h-36zM864 486h6v4h-6zM902 486h44v4h-44zM864 490h74v4h-74zM864 494h54v4h-54zM864 498h42v4h-42zM864 502h30v4h-30z"/>
<path fill="#00d7ff" d="M866 418h40v4h-40zM864 422h50v4h-50zM864 426h54v4h-54zM864 430h18v4h-18zM898 430h24v4h-24zM864 434h10v4h-10zM906 434h20v4h-20zM864 438h2v4h-2zM914 438h16v4h-16zM864 442h2v4h-2zM914 442h16v4h-16zM918 446h16v4h-16zM922 450h12v4h-12zM922 454h12v4h-12zM864 458h2v4h-2zM922 458h16v4h-16zM864 462h2v4h-2zM918 462h20v4h-20zM864 466h6v4h-6zM914 466h20v4h-20zM864 470h14v4h-14zM910 470h24v4h-24zM864 474h66v4h-66zM864 478h62v4h-62zM864 482h54v4h-54zM870 486h32v4h-32z"/>
<path fill="#00c7ff" d="M882 430h16v4h-16zM874 434h32v4h-32zM866 438h48v4h-48zM866 442h48v4h-48zM864 446h54v4h-54zM864 450h58v4h-58zM864 454h58v4h-58zM866 458h56v4h-56zM866 462h52v4h-52zM870 466h44v4h-44zM878 470h32v4h-32z"/>
<path fill="#58ffa7" d="M864 578h6v4h-6zM864 582h18v4h-18zM870 586h36v4h-36zM882 590h76v4h-76zM906 594h44v4h-44zM930 598h16v4h-16z"/>
<path fill="#68ff97" d="M864 586h6v4h-6zM864 590h18v4h-18zM870 594h36v4h-36zM890 598h40v4h-40zM910 602h28v4h-28zM930 606h4v4h-4z"/>
<path fill="#78ff87" d="M864 594h6v4h-6zM864 598h26v4h-26zM878 602h32v4h-32zM902 606h28v4h-28zM918 610h8v4h-8z"/>
<path fill="#87ff78" d="M864 602h14v4h-14zM864 606h38v4h-38zM894 610h24v4h-24zM906 614h12v4h-12z"/>
<path fill="#97ff68" d="M864 610h30v4h-30zM878 614h28v4h-28zM898 618h8v4h-8z"/>
<path fill="#a7ff58" d="M864 614h14v4h-14zM864 618h34v4h-34z"/>
<path fill="#b7ff48" d="M864 622h22v4h-22z"/>
</g>
<path fill="none" stroke="#262626" stroke-opacity="0.75" stroke-width="0.85" d="M866.0 407.4 862.0 405.7 860.0 405.0 856.0 403.7 854.0 403.1 850.0 402.1 847.5 401.5 844.0 400.8 840.0 400.2 836.0 399.7 834.0 399.5 830.0 399.3 826.0 399.2 822.0 399.4 820.0 399.6 816.0 400.2 812.0 401.2 810.0 401.8 806.0 403.4 804.0 404.4 802.0 405.6 799.7 407.5 797.8 409.5 796.0 412.2 794.4 415.5 793.6 417.5 792.2 421.5 791.6 423.5 790.5 427.5 790.0 429.6 789.0 433.5 788.0 437.5 787.6 439.5 786.5 443.5 786.0 445.6 785.0 449.5 784.0 452.8 783.2 455.5 782.0 459.1 781.2 461.5 780.0 464.8 779.1 467.5 778.0 470.7 777.2 473.5 776.2 477.5 775.9 479.5 775.8 483.5 776.0 485.5 777.3 489.5 778.4 491.5 780.2 493.5 782.7 495.5 786.0 497.2 788.0 498.0 792.0 498.9 796.0 499.4 798.0 499.5 801.0 499.5 804.0 499.4 808.0 499.1 812.0 498.7 816.0 498.3 820.0 497.9 824.0 497.6 826.0 497.4 830.0 497.0 834.0 496.5 838.0 495.9 840.3 495.5 844.0 494.5 846.7 493.5 850.0 492.1 852.0 491.2 855.5 489.5 858.0 488.2 860.0 487.1 862.9 485.5 866.0 483.7M866.0 380.4 862.0 379.5 860.0 379.1 856.0 378.3 852.0 377.6 850.0 377.2 846.0 376.5 842.0 375.7 840.0 375.4 836.0 374.7 832.0 374.0 828.1 373.5 826.0 373.3 822.0 372.9 818.0 372.8 814.0 373.0 810.0 373.4 808.0 373.6 804.0 374.4 800.0 375.3 798.0 375.9 794.0 377.2 792.0 378.0 788.6 379.5 786.0 380.8 784.0 381.9 781.3 383.5 778.3 385.5 776.0 387.2 774.0 388.7 772.0 390.4 770.0 392.2 768.0 394.0 766.0 396.0 764.0 398.1 762.0 400.2 760.0 402.2 758.0 403.9 754.2 405.5 752.0 405.7 750.0 405.5 746.0 404.9 742.0 404.3 738.0 404.0 734.0 403.9 730.0 404.2 726.0 404.8M724.0 455.5 728.0 456.6 731.8 457.5 734.0 458.1 737.3 459.5 740.0 461.5 741.5 463.5 742.3 465.5 742.5 469.5 741.9 471.5 740.0 474.3 738.0 475.9 734.0 477.4 732.0 477.6 728.0 477.7 724.0 478.6M724.0 493.1 726.0 495.5 727.9 497.5 730.0 499.5 732.0 501.4 734.0 503.2 736.0 504.9 738.0 506.5 740.0 508.0 742.3 509.5 745.5 511.5 748.0 513.0 750.0 514.1 752.8 515.5 756.0 517.0 758.0 517.9 762.0 519.5 764.0 520.1 768.0 521.4 770.0 521.9 774.0 522.8 777.9 523.5 780.0 523.8 784.0 524.2 788.0 524.5 792.0 524.6 796.0 524.6 800.0 524.4 804.0 524.0 806.8 523.5 810.0 522.7 813.7 521.5 816.0 520.7 819.1 519.5 822.0 518.3 824.0 517.5 828.0 515.8 830.0 514.9 833.4 513.5 836.0 512.4 838.2 511.5 842.0 510.0 844.0 509.3 848.0 507.9 850.0 507.3 854.0 506.1 856.3 505.5 860.0 504.4 863.1 503.5 866.0 502.6M866.0 354.7 862.0 354.4 858.0 354.2 854.0 353.8 851.6 353.5 848.0 352.8 844.0 351.8 842.0 351.3 838.0 350.1 836.0 349.5 832.0 348.3 829.4 347.5 826.0 346.6 822.0 345.6 820.0 345.1 816.0 344.3 812.0 343.6M724.0 524.1 726.7 525.5 730.0 527.5 732.0 528.7 734.0 529.9 736.7 531.5 740.0 533.4 742.0 534.4 744.4 535.5 748.0 537.1 750.0 537.8 754.0 539.2 756.0 539.8 760.0 540.8 763.3 541.5 766.0 542.0 770.0 542.5 774.0 542.9 778.0 543.1 782.0 543.3 786.0 543.3 790.0 543.1 794.0 542.9 798.0 542.6 802.0 542.1 806.0 541.5 808.0 541.1 812.0 540.2 814.7 539.5 818.0 538.5 820.8 537.5 824.0 536.2 826.0 535.4 829.9 533.5 832.0 532.4 834.0 531.3 837.3 529.5 840.0 528.0 842.0 526.9 844.5 525.5 848.0 523.8 850.0 523.0 854.0 521.8 856.0 521.3 860.0 520.5 864.0 519.7 866.0 519.4M724.0 552.3 727.9 553.5 730.0 554.1 734.0 555.3 736.0 555.8 740.0 556.9 742.7 557.5 746.0 558.2 750.0 558.9 753.7 559.5 756.0 559.8 760.0 560.2 764.0 560.4 768.0 560.5 772.0 560.5 776.0 560.3 780.0 560.1 784.0 559.8 787.4 559.5 790.0 559.3 794.0 558.8 798.0 558.3 802.0 557.8 804.5 557.5 808.0 557.0 812.0 556.4 816.0 555.7 818.0 555.4 822.0 554.6 826.0 553.7 828.0 553.2 832.0 552.2 834.6 551.5 838.0 550.5 841.2 549.5 844.0 548.6 847.0 547.5 850.0 546.3 852.0 545.5 856.0 543.9 858.0 543.2 862.0 541.8 864.0 541.2M724.0 576.3 728.0 576.8 732.0 577.2 735.0 577.5 738.0 577.8 742.0 578.0 746.0 578.2 750.0 578.4 754.0 578.4 758.0 578.4 762.0 578.2 766.0 578.0 770.0 577.6 772.0 577.4 776.0 576.9 780.0 576.4 784.0 575.8 786.4 575.5 790.0 575.0 794.0 574.4 798.0 573.8 800.0 573.5 804.0 572.9 808.0 572.4 812.0 572.0 816.0 571.5 818.0 571.3 822.0 570.9 826.0 570.5 830.0 570.1 834.0 569.7 836.0 569.4 840.0 569.0 844.0 568.4 848.0 567.8 850.0 567.4 854.0 566.5 858.0 565.5 860.0 565.0 864.0 563.9 866.0 563.3M724.0 598.8 728.0 598.8 732.0 598.7 736.0 598.6 740.0 598.4 744.0 598.2 748.0 597.9 752.0 597.6 754.0 597.4 758.0 596.9 762.0 596.4 766.0 595.9 768.5 595.5 772.0 594.9 776.0 594.2 780.0 593.5 782.0 593.2 786.0 592.4 790.0 591.7 792.0 591.4 796.0 590.7 800.0 590.1 803.6 589.5 806.0 589.1 810.0 588.6 814.0 588.1 818.0 587.6 820.0 587.4 824.0 587.0 828.0 586.6 832.0 586.2 836.0 585.9 840.0 585.6 842.0 585.4 846.0 585.1 850.0 584.7 854.0 584.2 858.0 583.7 860.0 583.5 864.0 582.9M724.0 621.7 726.2 621.5 730.0 621.1 734.0 620.6 738.0 620.1 742.0 619.6 744.0 619.3 748.0 618.7 752.0 618.1 755.6 617.5 758.0 617.1 762.0 616.4 766.0 615.6 768.0 615.2 772.0 614.4 776.0 613.6 778.0 613.1 782.0 612.3 785.6 611.5 788.0 611.0 792.0 610.1 795.1 609.5 798.0 608.9 802.0 608.1 805.1 607.5 808.0 607.0 812.0 606.2 816.0 605.6 818.0 605.2 822.0 604.6 826.0 604.0 829.7 603.5 832.0 603.2 836.0 602.7 840.0 602.3 844.0 601.9 848.0 601.7 851.3 601.5 854.0 601.4 858.0 601.2 862.0 601.1 866.0 600.9M862.0 487.2 864.0 488.0 868.0 489.4 870.0 489.9 874.0 490.7 878.0 491.2 882.0 491.3 886.0 491.2 890.0 491.0 894.0 490.6 898.0 490.1 901.1 489.5 904.0 488.9 908.0 487.8 910.0 487.2 914.0 485.9 916.0 485.2 920.0 483.6 922.0 482.6 924.3 481.5 927.6 479.5 930.0 477.7 932.0 475.9 934.0 473.7 935.5 471.5 936.5 469.5 937.8 465.5 938.1 463.5 938.2 459.5 938.0 457.5 937.1 453.5 936.0 450.1 935.0 447.5 934.0 445.2 932.2 441.5 931.1 439.5 929.9 437.5 928.0 434.7 926.0 432.1 924.0 429.9 922.0 427.9 920.0 426.2 918.0 424.6 916.0 423.2 913.3 421.5 910.0 419.8 908.0 418.9 904.3 417.5 902.0 416.8 898.0 416.0 894.8 415.5 892.0 415.3 888.0 415.1 884.0 415.1 880.0 415.2 877.4 415.5 874.0 416.0 870.0 416.8 867.5 417.5 864.0 418.6M862.0 519.5 864.0 520.1 868.0 521.2 870.0 521.7 874.0 522.5 878.0 523.1 882.0 523.5 886.0 523.4 890.0 522.9 894.0 522.0 896.0 521.3 900.0 519.8 902.0 518.9 904.8 517.5 908.0 515.9 910.0 514.8 912.6 513.5 916.0 512.1 918.0 511.4 922.0 510.9 926.0 511.1 930.0 511.4 932.0 511.7 936.0 512.3 940.0 512.8 944.0 513.3 946.0 513.5 950.0 513.8 954.0 513.9 958.0 513.8 962.0 513.6 964.0 513.4 968.0 513.0 972.0 512.5 976.0 511.8 978.0 511.3 982.0 510.2 984.1 509.5 988.0 507.5 990.0 505.8 992.0 503.5 993.2 501.5 994.3 499.5 995.8 495.5 996.3 493.5 997.2 489.5 997.7 485.5 998.1 483.5 998.9 479.5 1000.0 475.5 1000.5 473.5 1001.3 469.5 1001.9 465.5 1002.0 463.5 1002.1 459.5 1002.0 457.5 1001.4 453.5 1000.4 449.5 999.8 447.5 998.0 443.6 996.8 441.5 995.5 439.5 994.0 437.4 992.0 435.2 990.0 433.2 988.0 431.5 985.2 429.5 982.0 427.7 980.0 427.0 976.0 426.0 973.6 425.5 970.0 424.8 966.0 423.8 964.0 423.2 960.0 421.8 958.0 421.0 955.1 419.5 952.0 417.9 950.0 416.7 948.0 415.5 944.7 413.5 942.0 411.9 940.0 410.7 938.0 409.5 934.4 407.5 932.0 406.2 930.0 405.1 926.8 403.5 924.0 402.2 922.0 401.2 918.1 399.5 916.0 398.6 913.2 397.5 910.0 396.3 907.7 395.5 904.0 394.4 900.0 393.5 898.0 393.2 894.0 392.8 890.0 392.6 886.0 392.4 882.0 392.4 878.0 392.4 874.0 392.6 870.0 392.8 866.0 393.1 862.0 393.5M1004.0 387.6 1002.0 387.5 998.0 387.3 994.0 387.2 990.0 387.2 986.0 387.2 982.0 387.2 978.0 387.2 974.0 387.2 970.0 387.2 966.0 387.2 962.0 387.0 958.0 386.8 954.0 386.4 950.0 386.0 946.3 385.5 944.0 385.1 940.0 384.5 936.0 383.7 934.0 383.3 930.0 382.4 926.4 381.5 924.0 380.9 920.0 379.7 918.0 379.1 914.0 377.9 912.0 377.3 908.0 376.2 905.2 375.5 902.0 374.8 898.0 374.0 894.7 373.5 892.0 373.1 888.0 372.7 884.0 372.3 880.0 371.9 876.0 371.6 874.0 371.4 870.0 371.1 866.0 370.9 862.0 370.7M862.0 545.0 864.0 545.7 868.0 547.0 870.0 547.6 874.0 548.7 877.2 549.5 880.0 550.1 884.0 550.9 887.5 551.5 890.0 551.8 894.0 552.3 898.0 552.5 902.0 552.7 906.0 552.7 910.0 552.6 914.0 552.3 918.0 552.1 922.0 551.8 925.3 551.5 928.0 551.3 932.0 550.9 936.0 550.5 940.0 550.1 944.0 549.7 946.2 549.5 950.0 549.1 954.0 548.6 958.0 548.2 962.0 547.9 966.0 547.5 968.0 547.4 972.0 547.1 976.0 546.8 980.0 546.5 984.0 546.1 988.0 545.6 990.0 545.3 994.0 544.7 998.0 543.9 1000.0 543.5 1004.0 542.6M1004.0 345.9 1000.0 347.0 998.0 347.5 994.0 348.6 990.4 349.5 988.0 350.1 984.0 351.1 982.0 351.6 978.0 352.6 974.0 353.5 972.0 353.9 968.0 354.8 964.3 355.5 962.0 355.9 958.0 356.6 954.0 357.2 952.0 357.5 948.0 358.0 944.0 358.4 940.0 358.6 936.0 358.7 932.0 358.7 928.0 358.4 924.0 357.9 921.6 357.5 918.0 356.8 914.0 355.9 912.0 355.4 908.0 354.6 904.0 353.7 902.0 353.3 898.0 352.6 894.0 351.9 891.3 351.5 888.0 351.0 884.0 350.3 880.0 349.6 878.0 349.2 874.0 348.3 870.5 347.5 868.0 346.9 864.0 346.0M862.0 565.0 864.0 565.6 868.0 566.9 870.1 567.5 874.0 568.7 877.0 569.5 880.0 570.3 884.0 571.4 886.0 571.8 890.0 572.7 894.0 573.5 896.0 573.9 900.0 574.5 904.0 574.9 908.0 575.3 910.9 575.5 914.0 575.7 918.0 575.8 922.0 575.9 926.0 575.9 930.0 575.8 934.0 575.7 937.2 575.5 940.0 575.3 944.0 575.0 948.0 574.6 952.0 574.3 956.0 573.9 960.0 573.6 962.0 573.5 966.0 573.2 970.0 573.0 974.0 572.9 978.0 572.7 982.0 572.6 986.0 572.4 990.0 572.2 994.0 572.0 998.0 571.7 1000.4 571.5 1004.0 571.2M862.0 581.4 864.0 582.0 868.0 583.1 870.0 583.7 874.0 584.8 876.5 585.5 880.0 586.5 883.9 587.5 886.0 588.0 890.0 588.9 893.1 589.5 896.0 590.0 900.0 590.6 904.0 591.2 906.5 591.5 910.0 592.0 914.0 592.5 918.0 593.1 921.0 593.5 924.0 593.9 928.0 594.4 932.0 594.8 936.0 595.1 940.0 595.2 944.0 595.3 948.0 595.4 952.0 595.5 956.0 595.5 958.0 595.5 962.0 595.5 966.0 595.6 970.0 595.6 974.0 595.6 978.0 595.7 982.0 595.7 986.0 595.8 990.0 595.8 994.0 595.8 998.0 595.8 1002.0 595.8M862.0 595.5 864.0 595.9 868.0 596.8 871.2 597.5 874.0 598.1 878.0 599.1 880.0 599.5 884.0 600.5 888.0 601.4 890.0 601.7 894.0 602.3 898.0 602.9 901.7 603.5 904.0 603.9 908.0 604.8 911.3 605.5 914.0 606.1 918.0 607.1 920.0 607.6 924.0 608.5 928.0 609.4 930.0 609.8 934.0 610.5 938.0 611.2 940.0 611.5 944.0 612.1 948.0 612.6 952.0 613.1 954.9 613.5 958.0 613.9 962.0 614.3 966.0 614.7 970.0 615.1 973.6 615.5 976.0 615.7 980.0 616.1 984.0 616.5 988.0 616.9 992.0 617.2 995.7 617.5 998.0 617.7 1002.0 618.0M862.0 608.3 866.0 608.8 870.0 609.3 872.0 609.5 876.0 610.0 880.0 610.5 884.0 610.9 888.0 611.5 890.0 611.8 894.0 612.7 896.9 613.5 900.0 614.4 903.5 615.5 906.0 616.3 909.6 617.5 912.0 618.3 915.5 619.5 918.0 620.3 921.6 621.5 924.0 622.3 928.0 623.5"/>
</g>
<circle cx="864" cy="483.5" r="102.8" fill="none" stroke="#111" stroke-width="1.4"/>
<path d="M846 381.5L864 363.2L882 381.5" fill="none" stroke="#111" stroke-width="1.5"/>
<polyline points="761.8,465.1 759.1,459.7 757.5,459.5 755.1,460.4 752.6,465.1 753.0,480.1 751.5,501.7 754.6,511.0 759.1,512.8 763.5,508.2" fill="none" stroke="#111" stroke-width="1.4" stroke-linejoin="round"/>
<polyline points="966.2,465.1 968.9,459.7 970.5,459.5 972.9,460.4 975.4,465.1 975.0,480.1 976.5,501.7 973.4,511.0 968.9,512.8 964.5,508.2" fill="none" stroke="#111" stroke-width="1.4" stroke-linejoin="round"/>
<path d="M830.4 382.5a.9 .9 0 1 0 1.8 0a.9 .9 0 1 0 -1.8 0M895.8 382.5a.9 .9 0 1 0 1.8 0a.9 .9 0 1 0 -1.8 0M775.1 419.5a.9 .9 0 1 0 1.8 0a.9 .9 0 1 0 -1.8 0M951.1 419.5a.9 .9 0 1 0 1.8 0a.9 .9 0 1 0 -1.8 0M817.6 429.3a.9 .9 0 1 0 1.8 0a.9 .9 0 1 0 -1.8 0M908.6 429.3a.9 .9 0 1 0 1.8 0a.9 .9 0 1 0 -1.8 0M784.6 454.0a.9 .9 0 1 0 1.8 0a.9 .9 0 1 0 -1.8 0M941.6 454.0a.9 .9 0 1 0 1.8 0a.9 .9 0 1 0 -1.8 0M808.4 483.5a.9 .9 0 1 0 1.8 0a.9 .9 0 1 0 -1.8 0M917.8 483.5a.9 .9 0 1 0 1.8 0a.9 .9 0 1 0 -1.8 0M753.1 483.5a.9 .9 0 1 0 1.8 0a.9 .9 0 1 0 -1.8 0M973.1 483.5a.9 .9 0 1 0 1.8 0a.9 .9 0 1 0 -1.8 0M837.1 510.5a.9 .9 0 1 0 1.8 0a.9 .9 0 1 0 -1.8 0M889.1 510.5a.9 .9 0 1 0 1.8 0a.9 .9 0 1 0 -1.8 0M784.5 513.8a.9 .9 0 1 0 1.8 0a.9 .9 0 1 0 -1.8 0M941.7 513.8a.9 .9 0 1 0 1.8 0a.9 .9 0 1 0 -1.8 0M732.9 527.3a.9 .9 0 1 0 1.8 0a.9 .9 0 1 0 -1.8 0M993.3 527.3a.9 .9 0 1 0 1.8 0a.9 .9 0 1 0 -1.8 0M817.8 538.5a.9 .9 0 1 0 1.8 0a.9 .9 0 1 0 -1.8 0M908.4 538.5a.9 .9 0 1 0 1.8 0a.9 .9 0 1 0 -1.8 0M775.1 548.5a.9 .9 0 1 0 1.8 0a.9 .9 0 1 0 -1.8 0M951.1 548.5a.9 .9 0 1 0 1.8 0a.9 .9 0 1 0 -1.8 0M830.5 585.3a.9 .9 0 1 0 1.8 0a.9 .9 0 1 0 -1.8 0M895.7 585.3a.9 .9 0 1 0 1.8 0a.9 .9 0 1 0 -1.8 0" fill="#111"/>
<clipPath id="clipD"><circle cx="864" cy="1238" r="138.0"/></clipPath>
<circle cx="864" cy="1238" r="147" fill="#EBF1FA"/>
<filter id="fbD" x="-5%" y="-5%" width="110%" height="110%"><feGaussianBlur stdDeviation="1.1"/></filter>
<g clip-path="url(#clipD)"><g filter="url(#fbD)">
<path fill="#d7ff28" d="M842 1096h22v4h-22zM830 1100h34v4h-34zM738 1304h12v4h-12zM742 1308h20v4h-20zM862 1308h2v4h-2zM754 1312h36v4h-36zM846 1312h16v4h-16zM778 1316h32v4h-32zM826 1316h20v4h-20zM806 1320h24v4h-24z"/>
<path fill="#c7ff38" d="M822 1100h8v4h-8zM818 1104h46v4h-46zM842 1108h8v4h-8zM734 1296h8v4h-8zM738 1300h16v4h-16zM750 1304h16v4h-16zM858 1304h6v4h-6zM762 1308h28v4h-28zM846 1308h16v4h-16zM790 1312h56v4h-56zM810 1316h16v4h-16z"/>
<path fill="#b7ff48" d="M810 1104h8v4h-8zM802 1108h40v4h-40zM850 1108h14v4h-14zM830 1112h34v4h-34zM730 1288h8v4h-8zM734 1292h12v4h-12zM742 1296h16v4h-16zM754 1300h16v4h-16zM858 1300h6v4h-6zM766 1304h28v4h-28zM842 1304h16v4h-16zM790 1308h56v4h-56z"/>
<path fill="#a7ff58" d="M794 1112h36v4h-36zM822 1116h42v4h-42zM730 1280h4v4h-4zM730 1284h12v4h-12zM738 1288h12v4h-12zM746 1292h16v4h-16zM758 1296h16v4h-16zM858 1296h6v4h-6zM770 1300h24v4h-24zM842 1300h16v4h-16zM794 1304h48v4h-48z"/>
<path fill="#97ff68" d="M790 1116h32v4h-32zM782 1120h82v4h-82zM778 1124h4v4h-4zM770 1128h4v4h-4zM734 1176h4v4h-4zM734 1180h4v4h-4zM730 1184h8v4h-8zM730 1188h4v4h-4zM730 1192h4v4h-4zM726 1196h8v4h-8zM726 1200h4v4h-4zM726 1204h4v4h-4zM722 1216h4v4h-4zM726 1268h4v4h-4zM726 1272h8v4h-8zM726 1276h12v4h-12zM734 1280h12v4h-12zM742 1284h12v4h-12zM750 1288h16v4h-16zM762 1292h16v4h-16zM854 1292h10v4h-10zM774 1296h24v4h-24zM838 1296h20v4h-20zM794 1300h48v4h-48z"/>
<path fill="#87ff78" d="M782 1124h82v4h-82zM774 1128h20v4h-20zM834 1128h30v4h-30zM766 1132h16v4h-16zM762 1136h12v4h-12zM758 1140h8v4h-8zM754 1144h8v4h-8zM754 1148h4v4h-4zM750 1152h4v4h-4zM746 1156h8v4h-8zM746 1160h4v4h-4zM742 1164h8v4h-8zM738 1168h8v4h-8zM738 1172h8v4h-8zM738 1176h8v4h-8zM738 1180h8v4h-8zM738 1184h4v4h-4zM734 1188h8v4h-8zM734 1192h8v4h-8zM734 1196h8v4h-8zM730 1200h8v4h-8zM730 1204h8v4h-8zM726 1208h8v4h-8zM726 1212h8v4h-8zM726 1216h4v4h-4zM722 1220h8v4h-8zM722 1224h8v4h-8zM722 1228h8v4h-8zM722 1232h8v4h-8zM722 1236h4v4h-4zM722 1240h4v4h-4zM722 1244h4v4h-4zM722 1248h4v4h-4zM722 1252h8v4h-8zM722 1256h8v4h-8zM726 1260h4v4h-4zM726 1264h8v4h-8zM730 1268h8v4h-8zM734 1272h8v4h-8zM738 1276h12v4h-12zM746 1280h12v4h-12zM754 1284h16v4h-16zM766 1288h16v4h-16zM850 1288h14v4h-14zM778 1292h28v4h-28zM834 1292h20v4h-20zM798 1296h40v4h-40z"/>
<path fill="#78ff87" d="M794 1128h40v4h-40zM782 1132h82v4h-82zM774 1136h16v4h-16zM766 1140h16v4h-16zM762 1144h12v4h-12zM758 1148h12v4h-12zM754 1152h12v4h-12zM754 1156h8v4h-8zM750 1160h8v4h-8zM750 1164h8v4h-8zM746 1168h8v4h-8zM746 1172h8v4h-8zM746 1176h8v4h-8zM746 1180h4v4h-4zM742 1184h8v4h-8zM742 1188h8v4h-8zM742 1192h8v4h-8zM742 1196h4v4h-4zM738 1200h8v4h-8zM738 1204h4v4h-4zM734 1208h8v4h-8zM734 1212h4v4h-4zM730 1216h8v4h-8zM730 1220h8v4h-8zM730 1224h8v4h-8zM730 1228h4v4h-4zM730 1232h4v4h-4zM726 1236h8v4h-8zM726 1240h8v4h-8zM726 1244h8v4h-8zM726 1248h8v4h-8zM730 1252h4v4h-4zM730 1256h8v4h-8zM730 1260h8v4h-8zM734 1264h8v4h-8zM738 1268h8v4h-8zM742 1272h12v4h-12zM750 1276h16v4h-16zM758 1280h20v4h-20zM862 1280h2v4h-2zM770 1284h20v4h-20zM846 1284h18v4h-18zM782 1288h68v4h-68zM806 1292h28v4h-28z"/>
<path fill="#68ff97" d="M790 1136h74v4h-74zM782 1140h20v4h-20zM774 1144h16v4h-16zM770 1148h12v4h-12zM766 1152h12v4h-12zM762 1156h12v4h-12zM758 1160h12v4h-12zM758 1164h8v4h-8zM754 1168h12v4h-12zM754 1172h8v4h-8zM754 1176h8v4h-8zM750 1180h8v4h-8zM750 1184h8v4h-8zM750 1188h4v4h-4zM750 1192h4v4h-4zM746 1196h8v4h-8zM746 1200h4v4h-4zM742 1204h8v4h-8zM742 1208h4v4h-4zM738 1212h8v4h-8zM738 1216h8v4h-8zM738 1220h4v4h-4zM738 1224h4v4h-4zM734 1228h8v4h-8zM734 1232h8v4h-8zM734 1236h8v4h-8zM734 1240h8v4h-8zM734 1244h8v4h-8zM734 1248h8v4h-8zM734 1252h8v4h-8zM738 1256h8v4h-8zM738 1260h8v4h-8zM742 1264h12v4h-12zM746 1268h16v4h-16zM754 1272h20v4h-20zM766 1276h20v4h-20zM854 1276h10v4h-10zM778 1280h28v4h-28zM838 1280h24v4h-24zM790 1284h56v4h-56z"/>
<path fill="#58ffa7" d="M802 1140h62v4h-62zM790 1144h32v4h-32zM846 1144h18v4h-18zM782 1148h20v4h-20zM778 1152h16v4h-16zM774 1156h12v4h-12zM770 1160h12v4h-12zM766 1164h12v4h-12zM766 1168h8v4h-8zM762 1172h8v4h-8zM762 1176h8v4h-8zM758 1180h8v4h-8zM758 1184h8v4h-8zM754 1188h8v4h-8zM754 1192h8v4h-8zM754 1196h4v4h-4zM750 1200h8v4h-8zM750 1204h4v4h-4zM746 1208h8v4h-8zM746 1212h4v4h-4zM746 1216h4v4h-4zM742 1220h8v4h-8zM742 1224h8v4h-8zM742 1228h4v4h-4zM742 1232h4v4h-4zM742 1236h4v4h-4zM742 1240h4v4h-4zM742 1244h8v4h-8zM742 1248h8v4h-8zM742 1252h8v4h-8zM746 1256h8v4h-8zM746 1260h16v4h-16zM754 1264h16v4h-16zM762 1268h28v4h-28zM862 1268h2v4h-2zM774 1272h28v4h-28zM850 1272h14v4h-14zM786 1276h68v4h-68zM806 1280h32v4h-32z"/>
<path fill="#48ffb7" d="M822 1144h24v4h-24zM802 1148h62v4h-62zM794 1152h20v4h-20zM786 1156h16v4h-16zM782 1160h16v4h-16zM778 1164h16v4h-16zM774 1168h12v4h-12zM770 1172h12v4h-12zM770 1176h8v4h-8zM766 1180h12v4h-12zM766 1184h8v4h-8zM762 1188h8v4h-8zM762 1192h4v4h-4zM758 1196h8v4h-8zM758 1200h4v4h-4zM754 1204h8v4h-8zM754 1208h4v4h-4zM750 1212h8v4h-8zM750 1216h4v4h-4zM750 1220h4v4h-4zM750 1224h4v4h-4zM746 1228h8v4h-8zM746 1232h8v4h-8zM746 1236h8v4h-8zM746 1240h8v4h-8zM750 1244h8v4h-8zM750 1248h8v4h-8zM750 1252h12v4h-12zM754 1256h16v4h-16zM762 1260h28v4h-28zM770 1264h32v4h-32zM854 1264h10v4h-10zM790 1268h36v4h-36zM834 1268h28v4h-28zM802 1272h48v4h-48z"/>
<path fill="#38ffc7" d="M814 1152h50v4h-50zM802 1156h28v4h-28zM858 1156h6v4h-6zM798 1160h16v4h-16zM794 1164h12v4h-12zM786 1168h16v4h-16zM782 1172h16v4h-16zM778 1176h16v4h-16zM778 1180h12v4h-12zM774 1184h12v4h-12zM770 1188h8v4h-8zM766 1192h12v4h-12zM766 1196h8v4h-8zM762 1200h8v4h-8zM762 1204h4v4h-4zM758 1208h8v4h-8zM758 1212h4v4h-4zM754 1216h8v4h-8zM754 1220h8v4h-8zM754 1224h8v4h-8zM754 1228h4v4h-4zM754 1232h8v4h-8zM754 1236h8v4h-8zM754 1240h8v4h-8zM758 1244h8v4h-8zM758 1248h12v4h-12zM762 1252h24v4h-24zM770 1256h32v4h-32zM862 1256h2v4h-2zM790 1260h28v4h-28zM842 1260h22v4h-22zM802 1264h52v4h-52zM826 1268h8v4h-8z"/>
<path fill="#28ffd7" d="M830 1156h28v4h-28zM814 1160h50v4h-50zM806 1164h20v4h-20zM802 1168h16v4h-16zM798 1172h12v4h-12zM794 1176h12v4h-12zM790 1180h12v4h-12zM786 1184h12v4h-12zM778 1188h16v4h-16zM778 1192h8v4h-8zM774 1196h8v4h-8zM770 1200h8v4h-8zM766 1204h8v4h-8zM766 1208h8v4h-8zM762 1212h8v4h-8zM762 1216h8v4h-8zM762 1220h4v4h-4zM762 1224h4v4h-4zM758 1228h8v4h-8zM762 1232h4v4h-4zM762 1236h8v4h-8zM762 1240h12v4h-12zM766 1244h16v4h-16zM770 1248h32v4h-32zM862 1248h2v4h-2zM786 1252h32v4h-32zM850 1252h14v4h-14zM802 1256h60v4h-60zM818 1260h24v4h-24z"/>
<path fill="#18ffe7" d="M826 1164h38v4h-38zM818 1168h20v4h-20zM854 1168h10v4h-10zM810 1172h16v4h-16zM806 1176h12v4h-12zM802 1180h12v4h-12zM798 1184h12v4h-12zM794 1188h12v4h-12zM786 1192h16v4h-16zM782 1196h16v4h-16zM778 1200h12v4h-12zM774 1204h12v4h-12zM774 1208h8v4h-8zM770 1212h8v4h-8zM770 1216h4v4h-4zM766 1220h8v4h-8zM766 1224h8v4h-8zM766 1228h8v4h-8zM766 1232h12v4h-12zM770 1236h16v4h-16zM774 1240h32v4h-32zM862 1240h2v4h-2zM782 1244h40v4h-40zM850 1244h14v4h-14zM802 1248h60v4h-60zM818 1252h32v4h-32z"/>
<path fill="#08fff7" d="M838 1168h16v4h-16zM826 1172h38v4h-38zM818 1176h20v4h-20zM858 1176h6v4h-6zM814 1180h16v4h-16zM810 1184h12v4h-12zM806 1188h16v4h-16zM802 1192h16v4h-16zM798 1196h16v4h-16zM790 1200h20v4h-20zM786 1204h20v4h-20zM782 1208h16v4h-16zM778 1212h16v4h-16zM774 1216h16v4h-16zM774 1220h16v4h-16zM774 1224h20v4h-20zM774 1228h28v4h-28zM778 1232h36v4h-36zM858 1232h6v4h-6zM786 1236h44v4h-44zM846 1236h18v4h-18zM806 1240h56v4h-56zM822 1244h28v4h-28z"/>
<path fill="#00f7ff" d="M838 1176h20v4h-20zM830 1180h34v4h-34zM822 1184h16v4h-16zM854 1184h10v4h-10zM822 1188h12v4h-12zM862 1188h2v4h-2zM818 1192h12v4h-12zM814 1196h12v4h-12zM810 1200h16v4h-16zM806 1204h16v4h-16zM798 1208h24v4h-24zM794 1212h28v4h-28zM790 1216h32v4h-32zM862 1216h2v4h-2zM790 1220h36v4h-36zM858 1220h6v4h-6zM794 1224h40v4h-40zM850 1224h14v4h-14zM802 1228h62v4h-62zM814 1232h44v4h-44zM830 1236h16v4h-16z"/>
<path fill="#00e7ff" d="M838 1184h16v4h-16zM834 1188h28v4h-28zM830 1192h34v4h-34zM826 1196h16v4h-16zM850 1196h14v4h-14zM826 1200h12v4h-12zM850 1200h14v4h-14zM822 1204h20v4h-20zM850 1204h14v4h-14zM822 1208h42v4h-42zM822 1212h42v4h-42zM822 1216h40v4h-40zM826 1220h32v4h-32zM834 1224h16v4h-16z"/>
<path fill="#00d7ff" d="M842 1196h8v4h-8zM838 1200h12v4h-12zM842 1204h8v4h-8z"/>
<path fill="#e7ff18" d="M746 1312h8v4h-8zM862 1312h2v4h-2zM750 1316h28v4h-28zM846 1316h18v4h-18zM766 1320h40v4h-40zM830 1320h16v4h-16zM798 1324h32v4h-32z"/>
<path fill="#f7ff08" d="M746 1316h4v4h-4zM750 1320h16v4h-16zM846 1320h18v4h-18zM758 1324h40v4h-40zM830 1324h16v4h-16zM782 1328h52v4h-52z"/>
<path fill="#fff700" d="M754 1324h4v4h-4zM846 1324h18v4h-18zM754 1328h28v4h-28zM834 1328h16v4h-16zM766 1332h68v4h-68zM790 1336h24v4h-24z"/>
<path fill="#ffe700" d="M850 1328h14v4h-14zM758 1332h8v4h-8zM834 1332h24v4h-24zM762 1336h28v4h-28zM814 1336h24v4h-24zM778 1340h40v4h-40z"/>
<path fill="#ffd700" d="M858 1332h6v4h-6zM838 1336h26v4h-26zM766 1340h12v4h-12zM818 1340h24v4h-24zM770 1344h52v4h-52zM790 1348h16v4h-16z"/>
<path fill="#ffc700" d="M842 1340h22v4h-22zM822 1344h28v4h-28zM778 1348h12v4h-12zM806 1348h16v4h-16zM782 1352h28v4h-28z"/>
<path fill="#ffb700" d="M850 1344h14v4h-14zM822 1348h32v4h-32zM810 1352h16v4h-16zM790 1356h20v4h-20z"/>
<path fill="#ffa700" d="M854 1348h10v4h-10zM826 1352h28v4h-28zM810 1356h12v4h-12zM794 1360h16v4h-16z"/>
<path fill="#ff9700" d="M854 1352h10v4h-10zM822 1356h24v4h-24zM810 1360h12v4h-12zM802 1364h8v4h-8z"/>
<path fill="#ff8700" d="M846 1356h18v4h-18zM822 1360h16v4h-16zM810 1364h12v4h-12z"/>
<path fill="#ff7800" d="M838 1360h26v4h-26zM822 1364h12v4h-12zM810 1368h12v4h-12z"/>
<path fill="#ff6800" d="M834 1364h30v4h-30zM822 1368h12v4h-12z"/>
<path fill="#ff5800" d="M834 1368h30v4h-30zM822 1372h12v4h-12z"/>
<path fill="#ff4800" d="M834 1372h30v4h-30z"/>
<path fill="#ff3800" d="M842 1376h22v4h-22z"/>
<path fill="#28ffd7" d="M864 1096h2v4h-2zM864 1100h14v4h-14zM864 1104h34v4h-34zM864 1108h54v4h-54zM864 1112h70v4h-70zM878 1116h60v4h-60zM898 1120h48v4h-48zM914 1124h36v4h-36zM930 1128h28v4h-28zM946 1132h16v4h-16zM864 1276h10v4h-10zM864 1280h22v4h-22zM866 1284h112v4h-112zM874 1288h124v4h-124zM890 1292h104v4h-104zM914 1296h12v4h-12zM934 1296h60v4h-60z"/>
<path fill="#38ffc7" d="M866 1096h20v4h-20zM878 1100h28v4h-28zM898 1104h20v4h-20zM918 1108h8v4h-8zM864 1284h2v4h-2zM864 1288h10v4h-10zM864 1292h26v4h-26zM870 1296h44v4h-44zM926 1296h8v4h-8zM882 1300h108v4h-108zM894 1304h96v4h-96zM962 1308h24v4h-24z"/>
<path fill="#18ffe7" d="M864 1116h14v4h-14zM864 1120h34v4h-34zM864 1124h50v4h-50zM864 1128h66v4h-66zM894 1132h52v4h-52zM910 1136h56v4h-56zM922 1140h48v4h-48zM930 1144h44v4h-44zM942 1148h32v4h-32zM950 1152h28v4h-28zM966 1156h16v4h-16zM864 1264h10v4h-10zM934 1264h36v4h-36zM864 1268h30v4h-30zM914 1268h88v4h-88zM864 1272h138v4h-138zM874 1276h128v4h-128zM886 1280h112v4h-112zM978 1284h20v4h-20z"/>
<path fill="#08fff7" d="M864 1132h30v4h-30zM864 1136h46v4h-46zM864 1140h58v4h-58zM894 1144h36v4h-36zM910 1148h32v4h-32zM918 1152h32v4h-32zM926 1156h40v4h-40zM930 1160h52v4h-52zM934 1164h52v4h-52zM942 1168h48v4h-48zM946 1172h44v4h-44zM954 1176h40v4h-40zM962 1180h32v4h-32zM974 1184h24v4h-24zM986 1188h12v4h-12zM990 1192h8v4h-8zM990 1196h12v4h-12zM994 1200h8v4h-8zM994 1204h8v4h-8zM994 1208h8v4h-8zM990 1212h12v4h-12zM990 1216h16v4h-16zM990 1220h16v4h-16zM990 1224h16v4h-16zM998 1228h8v4h-8zM1002 1232h4v4h-4zM998 1236h8v4h-8zM938 1240h16v4h-16zM994 1240h12v4h-12zM922 1244h44v4h-44zM990 1244h16v4h-16zM864 1248h6v4h-6zM914 1248h92v4h-92zM864 1252h26v4h-26zM898 1252h108v4h-108zM864 1256h142v4h-142zM864 1260h138v4h-138zM874 1264h60v4h-60zM970 1264h32v4h-32zM894 1268h20v4h-20z"/>
<path fill="#00f7ff" d="M864 1144h30v4h-30zM864 1148h46v4h-46zM864 1152h54v4h-54zM864 1156h62v4h-62zM902 1160h28v4h-28zM910 1164h24v4h-24zM914 1168h28v4h-28zM922 1172h24v4h-24zM922 1176h32v4h-32zM926 1180h36v4h-36zM930 1184h44v4h-44zM930 1188h56v4h-56zM934 1192h56v4h-56zM934 1196h56v4h-56zM934 1200h60v4h-60zM934 1204h60v4h-60zM930 1208h64v4h-64zM930 1212h60v4h-60zM926 1216h64v4h-64zM918 1220h72v4h-72zM914 1224h76v4h-76zM906 1228h92v4h-92zM864 1232h10v4h-10zM898 1232h104v4h-104zM864 1236h134v4h-134zM864 1240h74v4h-74zM954 1240h40v4h-40zM864 1244h58v4h-58zM966 1244h24v4h-24zM870 1248h44v4h-44zM890 1252h8v4h-8z"/>
<path fill="#00e7ff" d="M864 1160h38v4h-38zM864 1164h46v4h-46zM864 1168h50v4h-50zM864 1172h58v4h-58zM864 1176h10v4h-10zM898 1176h24v4h-24zM864 1180h6v4h-6zM902 1180h24v4h-24zM864 1184h2v4h-2zM906 1184h24v4h-24zM864 1188h2v4h-2zM910 1188h20v4h-20zM864 1192h2v4h-2zM910 1192h24v4h-24zM864 1196h2v4h-2zM910 1196h24v4h-24zM864 1200h2v4h-2zM910 1200h24v4h-24zM864 1204h6v4h-6zM906 1204h28v4h-28zM864 1208h6v4h-6zM902 1208h28v4h-28zM864 1212h14v4h-14zM894 1212h36v4h-36zM864 1216h62v4h-62zM864 1220h54v4h-54zM864 1224h50v4h-50zM864 1228h42v4h-42zM874 1232h24v4h-24z"/>
<path fill="#00d7ff" d="M874 1176h24v4h-24zM870 1180h32v4h-32zM866 1184h40v4h-40zM866 1188h44v4h-44zM866 1192h44v4h-44zM866 1196h44v4h-44zM866 1200h44v4h-44zM870 1204h36v4h-36zM870 1208h32v4h-32zM878 1212h16v4h-16z"/>
<path fill="#48ffb7" d="M864 1296h6v4h-6zM864 1300h18v4h-18zM870 1304h24v4h-24zM882 1308h80v4h-80zM894 1312h88v4h-88zM958 1316h24v4h-24z"/>
<path fill="#58ffa7" d="M864 1304h6v4h-6zM864 1308h18v4h-18zM870 1312h24v4h-24zM886 1316h72v4h-72zM902 1320h76v4h-76zM958 1324h16v4h-16z"/>
<path fill="#68ff97" d="M864 1312h6v4h-6zM864 1316h22v4h-22zM874 1320h28v4h-28zM894 1324h64v4h-64zM934 1328h40v4h-40zM962 1332h8v4h-8z"/>
<path fill="#78ff87" d="M864 1320h10v4h-10zM864 1324h30v4h-30zM886 1328h48v4h-48zM914 1332h48v4h-48zM942 1336h24v4h-24z"/>
<path fill="#87ff78" d="M864 1328h22v4h-22zM870 1332h44v4h-44zM906 1336h36v4h-36zM926 1340h36v4h-36zM946 1344h12v4h-12z"/>
<path fill="#97ff68" d="M864 1332h6v4h-6zM864 1336h42v4h-42zM886 1340h40v4h-40zM914 1344h32v4h-32zM930 1348h20v4h-20z"/>
<path fill="#a7ff58" d="M864 1340h22v4h-22zM864 1344h50v4h-50zM898 1348h32v4h-32zM918 1352h28v4h-28zM930 1356h8v4h-8z"/>
<path fill="#b7ff48" d="M864 1348h34v4h-34zM874 1352h44v4h-44zM902 1356h28v4h-28zM918 1360h16v4h-16z"/>
<path fill="#c7ff38" d="M864 1352h10v4h-10zM864 1356h38v4h-38zM886 1360h32v4h-32zM906 1364h20v4h-20z"/>
<path fill="#d7ff28" d="M864 1360h22v4h-22zM864 1364h42v4h-42zM886 1368h32v4h-32z"/>
<path fill="#e7ff18" d="M864 1368h22v4h-22zM864 1372h42v4h-42z"/>
<path fill="#f7ff08" d="M864 1376h22v4h-22z"/>
</g>
<path fill="none" stroke="#262626" stroke-opacity="0.75" stroke-width="0.85" d="M866.0 1168.3 864.0 1167.7 860.0 1166.7 856.1 1166.0 854.0 1165.7 850.0 1165.4 846.0 1165.3 842.0 1165.4 838.0 1165.8 836.0 1166.1 832.0 1166.9 828.2 1168.0 826.0 1168.8 823.2 1170.0 820.0 1171.6 818.0 1172.8 816.0 1174.2 813.5 1176.0 811.1 1178.0 808.8 1180.0 806.5 1182.0 804.3 1184.0 802.1 1186.0 800.0 1187.8 798.0 1189.4 796.0 1191.0 794.0 1192.6 792.0 1194.1 789.5 1196.0 786.9 1198.0 784.5 1200.0 782.3 1202.0 780.2 1204.0 778.3 1206.0 776.6 1208.0 775.1 1210.0 773.7 1212.0 772.0 1214.8 770.5 1218.0 769.9 1220.0 769.1 1224.0 769.2 1228.0 770.0 1231.4 771.2 1234.0 772.5 1236.0 774.3 1238.0 776.8 1240.0 780.0 1241.8 782.0 1242.6 786.0 1243.8 788.0 1244.3 792.0 1245.2 796.0 1245.9 798.0 1246.3 802.0 1247.2 805.7 1248.0 808.0 1248.6 812.0 1249.6 814.0 1250.0 818.0 1250.9 822.0 1251.7 824.3 1252.0 828.0 1252.4 832.0 1252.6 836.0 1252.6 840.0 1252.4 843.8 1252.0 846.0 1251.7 850.0 1250.9 853.7 1250.0 856.0 1249.3 860.0 1248.0 862.0 1247.3 865.0 1246.0M866.0 1145.4 862.0 1145.0 858.0 1144.7 854.0 1144.4 850.0 1144.2 846.6 1144.0 844.0 1143.9 840.0 1143.8 836.0 1143.7 832.0 1143.7 828.0 1143.7 824.0 1143.7 820.0 1143.9 817.9 1144.0 814.0 1144.3 810.0 1144.8 806.0 1145.5 804.0 1146.1 800.0 1147.4 798.0 1148.2 794.2 1150.0 792.0 1151.2 790.0 1152.3 787.3 1154.0 784.4 1156.0 782.0 1157.8 780.0 1159.4 778.0 1161.1 776.0 1163.0 774.0 1165.2 772.0 1167.6 770.3 1170.0 769.1 1172.0 767.9 1174.0 766.0 1177.5 764.7 1180.0 763.8 1182.0 762.0 1185.7 761.0 1188.0 760.0 1190.1 758.2 1194.0 757.3 1196.0 756.0 1198.9 754.6 1202.0 753.7 1204.0 752.0 1207.7 751.0 1210.0 750.0 1212.4 748.6 1216.0 748.0 1218.0 746.8 1222.0 746.0 1225.4 745.5 1228.0 745.0 1232.0 744.7 1236.0 744.7 1240.0 745.0 1244.0 745.7 1248.0 746.2 1250.0 747.8 1254.0 748.9 1256.0 750.4 1258.0 752.4 1260.0 755.1 1262.0 758.0 1263.8 760.0 1264.8 762.7 1266.0 766.0 1267.2 768.2 1268.0 772.0 1269.1 775.3 1270.0 778.0 1270.7 782.0 1271.6 784.0 1272.0 788.0 1273.0 791.9 1274.0 794.0 1274.6 798.0 1275.7 800.0 1276.2 804.0 1277.1 808.0 1277.8 810.0 1278.2 814.0 1278.7 818.0 1279.1 822.0 1279.3 826.0 1279.3 830.0 1279.1 834.0 1278.8 838.0 1278.2 840.0 1277.9 844.0 1277.1 848.0 1276.2 850.0 1275.8 854.0 1274.7 856.7 1274.0 860.0 1273.0 863.3 1272.0 866.0 1271.1M866.0 1125.1 862.0 1125.2 858.0 1125.2 854.0 1125.2 850.0 1125.1 846.0 1125.0 842.0 1124.9 838.0 1124.6 834.0 1124.3 831.0 1124.0 828.0 1123.7 824.0 1123.2 820.0 1122.8 816.0 1122.4 812.0 1122.1 810.0 1122.0 806.0 1121.9 802.0 1121.9 800.0 1122.1 796.0 1122.4 792.0 1123.0 788.0 1123.8 786.0 1124.3 782.0 1125.4 780.0 1126.1 776.0 1127.5 774.0 1128.4 770.5 1130.0 768.0 1131.3 766.0 1132.5 763.5 1134.0 760.6 1136.0 758.0 1138.0 756.0 1139.7 754.0 1141.5 752.0 1143.6 750.0 1146.0 748.5 1148.0 747.1 1150.0 745.9 1152.0 744.0 1155.7 742.9 1158.0 742.0 1160.4 740.7 1164.0 740.0 1166.5 739.1 1170.0 738.2 1174.0 737.7 1176.0 736.9 1180.0 736.1 1184.0 735.7 1186.0 734.7 1190.0 734.0 1192.4 732.7 1196.0 731.9 1198.0 730.2 1202.0 729.3 1204.0 728.0 1207.0 726.8 1210.0 726.0 1212.1 724.6 1216.0 724.0 1218.0M724.0 1264.2 726.0 1267.7 727.6 1270.0 729.3 1272.0 731.2 1274.0 733.5 1276.0 736.0 1277.9 738.0 1279.2 740.0 1280.4 743.1 1282.0 746.0 1283.3 748.0 1284.2 752.0 1285.7 754.0 1286.5 758.0 1287.9 760.0 1288.6 764.0 1289.9 766.0 1290.5 770.0 1291.8 772.0 1292.4 776.0 1293.6 778.0 1294.2 782.0 1295.4 784.2 1296.0 788.0 1296.9 792.0 1297.7 794.0 1298.0 798.0 1298.6 802.0 1299.0 806.0 1299.5 810.0 1299.9 812.0 1300.0 816.0 1300.3 820.0 1300.5 824.0 1300.6 828.0 1300.5 832.0 1300.1 834.0 1299.8 838.0 1298.9 841.5 1298.0 844.0 1297.3 848.0 1296.2 850.0 1295.6 854.0 1294.5 856.0 1293.9 860.0 1292.8 863.0 1292.0 866.0 1291.2M779.0 1098.0 776.0 1098.4 772.0 1099.0 768.0 1099.8 766.0 1100.3 762.0 1101.4 760.0 1102.0 756.0 1103.5 754.0 1104.3 750.1 1106.0 748.0 1107.0 746.0 1108.1 742.7 1110.0 740.0 1111.7 738.0 1113.1 736.0 1114.6 734.0 1116.2 731.9 1118.0 729.7 1120.0 727.7 1122.0 725.8 1124.0 724.0 1126.1M866.0 1103.1 862.0 1103.7 859.7 1104.0 856.0 1104.5 852.0 1104.9 848.0 1105.2 844.0 1105.4 840.0 1105.2 836.0 1104.6 832.8 1104.0 830.0 1103.4 826.0 1102.5 823.7 1102.0 820.0 1101.2 816.0 1100.3 814.0 1100.0 810.0 1099.2 806.0 1098.6 802.0 1098.1M724.0 1295.7 726.0 1296.8 728.6 1298.0 732.0 1299.5 734.0 1300.3 738.0 1301.8 740.0 1302.5 744.0 1303.8 746.0 1304.4 750.0 1305.6 752.0 1306.2 756.0 1307.4 758.0 1308.0 762.0 1309.0 766.0 1310.0 768.0 1310.4 772.0 1311.2 776.0 1311.8 778.0 1312.1 782.0 1312.6 786.0 1313.0 790.0 1313.5 793.3 1314.0 796.0 1314.5 800.0 1315.3 803.6 1316.0 806.0 1316.4 810.0 1317.0 814.0 1317.4 818.0 1317.6 822.0 1317.6 826.0 1317.3 830.0 1316.8 834.0 1316.1 836.0 1315.6 840.0 1314.5 842.0 1314.0 846.0 1312.8 849.0 1312.0 852.0 1311.3 856.0 1310.4 858.0 1310.0 862.0 1309.2 866.0 1308.5M724.0 1320.8 727.6 1322.0 730.0 1322.8 734.0 1324.0 736.0 1324.6 740.0 1325.7 742.0 1326.2 746.0 1327.2 749.5 1328.0 752.0 1328.6 756.0 1329.4 759.0 1330.0 762.0 1330.6 766.0 1331.2 770.0 1331.9 772.0 1332.2 776.0 1332.8 780.0 1333.4 783.9 1334.0 786.0 1334.4 790.0 1335.1 794.0 1335.7 796.8 1336.0 800.0 1336.3 804.0 1336.4 808.0 1336.4 812.0 1336.1 814.0 1335.9 818.0 1335.4 822.0 1334.8 826.0 1334.0 828.0 1333.6 832.0 1332.7 835.1 1332.0 838.0 1331.3 842.0 1330.2 844.0 1329.7 848.0 1328.7 850.9 1328.0 854.0 1327.4 858.0 1326.8 862.0 1326.2 864.0 1326.0M724.0 1345.9 726.0 1346.4 730.0 1347.4 732.5 1348.0 736.0 1348.8 740.0 1349.6 742.0 1350.0 746.0 1350.8 750.0 1351.6 752.4 1352.0 756.0 1352.6 760.0 1353.3 764.0 1353.9 766.0 1354.2 770.0 1354.8 774.0 1355.3 778.0 1355.8 780.0 1356.0 784.0 1356.4 788.0 1356.7 792.0 1356.8 796.0 1356.8 800.0 1356.7 804.0 1356.3 806.1 1356.0 810.0 1355.1 814.0 1354.0 816.0 1353.5 820.0 1352.3 822.0 1351.7 826.0 1350.7 829.0 1350.0 832.0 1349.4 836.0 1348.8 840.0 1348.3 844.0 1348.1 846.0 1347.9 850.0 1347.5 854.0 1346.7 857.5 1346.0 860.0 1345.5 864.0 1344.6M724.0 1370.5 728.0 1371.2 732.0 1371.8 734.0 1372.1 738.0 1372.6 742.0 1373.1 746.0 1373.6 750.0 1374.0 752.0 1374.1 756.0 1374.5 760.0 1374.7 764.0 1374.9 768.0 1375.1 772.0 1375.1 776.0 1375.1 780.0 1375.0 784.0 1374.9 788.0 1374.6 792.0 1374.1 794.0 1373.9 798.0 1373.3 802.0 1372.5 804.3 1372.0 808.0 1371.1 811.7 1370.0 814.0 1369.3 817.9 1368.0 820.0 1367.3 823.6 1366.0 826.0 1365.2 829.7 1364.0 832.0 1363.3 836.0 1362.4 838.3 1362.0 842.0 1361.6 846.0 1361.4 850.0 1361.4 854.0 1361.3 858.0 1361.1 862.0 1360.8 866.0 1360.4M862.0 1242.7 864.9 1244.0 868.0 1245.2 870.4 1246.0 874.0 1247.1 878.0 1248.0 880.0 1248.4 884.0 1248.9 888.0 1249.2 892.0 1249.2 896.0 1248.8 900.0 1248.1 902.0 1247.6 906.0 1246.3 908.0 1245.5 911.1 1244.0 914.0 1242.5 916.0 1241.4 918.8 1240.0 922.0 1238.5 924.0 1237.6 928.0 1236.2 930.0 1235.6 934.0 1234.5 936.0 1234.0 940.0 1233.1 944.0 1232.3 946.0 1231.9 950.0 1231.3 954.0 1230.7 958.0 1230.1 960.0 1229.6 963.9 1228.0 965.8 1226.0 966.8 1224.0 968.0 1220.0 968.3 1218.0 968.7 1214.0 968.8 1210.0 968.4 1206.0 967.9 1204.0 966.0 1200.1 964.5 1198.0 962.6 1196.0 960.5 1194.0 958.1 1192.0 956.0 1190.3 954.0 1188.7 952.0 1187.0 950.0 1185.3 948.0 1183.6 946.0 1181.8 944.0 1179.9 942.0 1178.0 939.9 1176.0 937.8 1174.0 935.6 1172.0 933.3 1170.0 930.9 1168.0 928.4 1166.0 926.0 1164.2 924.0 1162.8 922.0 1161.4 919.8 1160.0 916.5 1158.0 914.0 1156.6 912.0 1155.6 908.6 1154.0 906.0 1152.9 903.6 1152.0 900.0 1150.9 896.2 1150.0 894.0 1149.6 890.0 1148.9 886.0 1148.5 882.0 1148.2 878.0 1148.1 874.0 1148.1 870.0 1148.4 866.0 1148.8 862.0 1149.4M1004.0 1132.0 1000.0 1133.1 996.7 1134.0 994.0 1134.7 990.0 1135.6 988.0 1136.0 984.0 1136.8 980.0 1137.5 976.9 1138.0 974.0 1138.4 970.0 1138.7 966.0 1138.9 962.0 1138.8 958.0 1138.4 955.3 1138.0 952.0 1137.4 948.0 1136.5 946.0 1136.0 942.0 1135.0 938.2 1134.0 936.0 1133.4 932.0 1132.4 930.0 1131.9 926.0 1130.9 922.5 1130.0 920.0 1129.4 916.0 1128.3 914.0 1127.7 910.0 1126.6 908.0 1126.0 904.0 1124.9 900.6 1124.0 898.0 1123.4 894.0 1122.5 891.8 1122.0 888.0 1121.2 884.0 1120.5 881.1 1120.0 878.0 1119.4 874.0 1118.8 870.0 1118.1 868.0 1117.7 864.0 1117.1M862.0 1273.0 864.5 1274.0 868.0 1275.2 870.2 1276.0 874.0 1277.2 876.5 1278.0 880.0 1279.0 883.8 1280.0 886.0 1280.5 890.0 1281.4 893.6 1282.0 896.0 1282.3 900.0 1282.8 904.0 1283.2 908.0 1283.4 912.0 1283.6 916.0 1283.6 920.0 1283.5 924.0 1283.3 928.0 1283.1 932.0 1282.7 936.0 1282.4 939.8 1282.0 942.0 1281.8 946.0 1281.4 950.0 1281.0 954.0 1280.8 958.0 1280.8 962.0 1281.4 964.8 1282.0 968.0 1282.7 972.0 1283.4 976.0 1284.0 978.0 1284.2 982.0 1284.5 986.0 1284.6 990.0 1284.7 994.0 1284.6 998.0 1284.4 1002.0 1284.0 1004.0 1283.8M862.0 1295.7 864.0 1296.4 868.0 1297.7 870.0 1298.4 874.0 1299.8 876.0 1300.5 880.0 1301.8 882.0 1302.5 886.0 1303.9 888.0 1304.5 892.0 1305.9 894.0 1306.6 898.0 1307.9 900.0 1308.5 904.0 1309.3 908.0 1309.5 912.0 1309.4 916.0 1309.2 920.0 1309.0 924.0 1308.8 928.0 1308.7 932.0 1308.6 936.0 1308.7 940.0 1308.9 944.0 1309.1 948.0 1309.5 952.0 1309.9 954.0 1310.1 958.0 1310.4 962.0 1310.7 966.0 1311.0 970.0 1311.2 974.0 1311.3 978.0 1311.5 982.0 1311.6 986.0 1311.6 990.0 1311.7 994.0 1311.7 998.0 1311.8 1002.0 1311.8M862.0 1313.6 864.0 1314.2 868.0 1315.3 870.7 1316.0 874.0 1316.9 878.0 1318.0 880.0 1318.5 884.0 1319.5 886.0 1320.0 890.0 1320.9 894.0 1321.8 896.0 1322.2 900.0 1322.9 904.0 1323.3 908.0 1323.6 912.0 1323.9 914.6 1324.0 918.0 1324.2 922.0 1324.4 926.0 1324.6 930.0 1324.8 934.0 1325.1 938.0 1325.4 942.0 1325.7 944.9 1326.0 948.0 1326.3 952.0 1326.8 956.0 1327.4 959.7 1328.0 962.0 1328.4 966.0 1329.0 970.0 1329.6 972.4 1330.0 976.0 1330.5 980.0 1331.1 984.0 1331.6 986.8 1332.0 990.0 1332.4 994.0 1332.9 998.0 1333.3 1002.0 1333.7M862.0 1329.0 866.0 1329.7 868.0 1330.1 872.0 1330.7 876.0 1331.3 880.0 1331.9 882.0 1332.2 886.0 1332.7 890.0 1333.1 894.0 1333.4 898.0 1333.7 901.7 1334.0 904.0 1334.3 908.0 1335.0 912.0 1335.8 914.0 1336.2 918.0 1337.0 922.0 1337.8 924.0 1338.1 928.0 1338.8 932.0 1339.5 934.7 1340.0 938.0 1340.6 942.0 1341.3 945.7 1342.0 948.0 1342.5 952.0 1343.3 955.3 1344.0 958.0 1344.6 962.0 1345.5 964.0 1346.0 968.0 1346.9 972.0 1347.8 974.0 1348.3 978.0 1349.2 981.7 1350.0 984.0 1350.5 988.0 1351.3 991.3 1352.0 994.0 1352.5 998.0 1353.3 1001.6 1354.0 1004.0 1354.4M862.0 1343.7 865.5 1344.0 868.0 1344.2 872.0 1344.6 876.0 1345.0 880.0 1345.3 884.0 1345.7 887.3 1346.0 890.0 1346.3 894.0 1346.7 898.0 1347.3 902.0 1348.0 904.0 1348.4 908.0 1349.2 911.4 1350.0 914.0 1350.6 918.0 1351.6 920.0 1352.1 924.0 1353.1 927.7 1354.0 930.0 1354.6 934.0 1355.6 936.0 1356.1 940.0 1357.2 943.0 1358.0 946.0 1358.8 950.0 1359.9 952.0 1360.5 956.0 1361.6 958.0 1362.2 962.0 1363.4 964.2 1364.0 968.0 1365.1 971.1 1366.0 974.0 1366.8 978.0 1368.0 980.0 1368.5 984.0 1369.6 986.0 1370.2 990.0 1371.3 992.7 1372.0 996.0 1372.9 1000.0 1373.9 1002.0 1374.4M862.0 1358.9 866.0 1359.1 870.0 1359.3 874.0 1359.6 878.0 1359.8 880.0 1360.0 884.0 1360.4 888.0 1360.9 892.0 1361.5 894.5 1362.0 898.0 1362.8 902.0 1363.7 904.0 1364.2 908.0 1365.2 910.9 1366.0 914.0 1366.9 918.0 1368.0 920.0 1368.6 924.0 1369.8 926.0 1370.4 930.0 1371.7 932.0 1372.3 936.0 1373.6 938.0 1374.2 942.0 1375.6 944.0 1376.2 948.0 1377.6"/>
</g>
<circle cx="864" cy="1238" r="102.8" fill="none" stroke="#111" stroke-width="1.4"/>
<path d="M846 1136.0L864 1117.7L882 1136.0" fill="none" stroke="#111" stroke-width="1.5"/>
<polyline points="761.8,1219.6 759.1,1214.2 757.5,1214.0 755.1,1214.9 752.6,1219.6 753.0,1234.6 751.5,1256.2 754.6,1265.5 759.1,1267.3 763.5,1262.7" fill="none" stroke="#111" stroke-width="1.4" stroke-linejoin="round"/>
<polyline points="966.2,1219.6 968.9,1214.2 970.5,1214.0 972.9,1214.9 975.4,1219.6 975.0,1234.6 976.5,1256.2 973.4,1265.5 968.9,1267.3 964.5,1262.7" fill="none" stroke="#111" stroke-width="1.4" stroke-linejoin="round"/>
<path d="M830.4 1137.0a.9 .9 0 1 0 1.8 0a.9 .9 0 1 0 -1.8 0M895.8 1137.0a.9 .9 0 1 0 1.8 0a.9 .9 0 1 0 -1.8 0M775.1 1174.0a.9 .9 0 1 0 1.8 0a.9 .9 0 1 0 -1.8 0M951.1 1174.0a.9 .9 0 1 0 1.8 0a.9 .9 0 1 0 -1.8 0M817.6 1183.8a.9 .9 0 1 0 1.8 0a.9 .9 0 1 0 -1.8 0M908.6 1183.8a.9 .9 0 1 0 1.8 0a.9 .9 0 1 0 -1.8 0M784.6 1208.5a.9 .9 0 1 0 1.8 0a.9 .9 0 1 0 -1.8 0M941.6 1208.5a.9 .9 0 1 0 1.8 0a.9 .9 0 1 0 -1.8 0M808.4 1238.0a.9 .9 0 1 0 1.8 0a.9 .9 0 1 0 -1.8 0M917.8 1238.0a.9 .9 0 1 0 1.8 0a.9 .9 0 1 0 -1.8 0M753.1 1238.0a.9 .9 0 1 0 1.8 0a.9 .9 0 1 0 -1.8 0M973.1 1238.0a.9 .9 0 1 0 1.8 0a.9 .9 0 1 0 -1.8 0M837.1 1265.0a.9 .9 0 1 0 1.8 0a.9 .9 0 1 0 -1.8 0M889.1 1265.0a.9 .9 0 1 0 1.8 0a.9 .9 0 1 0 -1.8 0M784.5 1268.3a.9 .9 0 1 0 1.8 0a.9 .9 0 1 0 -1.8 0M941.7 1268.3a.9 .9 0 1 0 1.8 0a.9 .9 0 1 0 -1.8 0M732.9 1281.8a.9 .9 0 1 0 1.8 0a.9 .9 0 1 0 -1.8 0M993.3 1281.8a.9 .9 0 1 0 1.8 0a.9 .9 0 1 0 -1.8 0M817.8 1293.0a.9 .9 0 1 0 1.8 0a.9 .9 0 1 0 -1.8 0M908.4 1293.0a.9 .9 0 1 0 1.8 0a.9 .9 0 1 0 -1.8 0M775.1 1303.0a.9 .9 0 1 0 1.8 0a.9 .9 0 1 0 -1.8 0M951.1 1303.0a.9 .9 0 1 0 1.8 0a.9 .9 0 1 0 -1.8 0M830.5 1339.8a.9 .9 0 1 0 1.8 0a.9 .9 0 1 0 -1.8 0M895.7 1339.8a.9 .9 0 1 0 1.8 0a.9 .9 0 1 0 -1.8 0" fill="#111"/>
<clipPath id="clipF"><circle cx="864" cy="1970" r="138.0"/></clipPath>
<circle cx="864" cy="1970" r="147" fill="#EBF1FA"/>
<filter id="fbF" x="-5%" y="-5%" width="110%" height="110%"><feGaussianBlur stdDeviation="1.1"/></filter>
<g clip-path="url(#clipF)"><g filter="url(#fbF)">
<path fill="#48ffb7" d="M842 1828h22v4h-22zM822 1832h42v4h-42zM810 1836h48v4h-48zM802 1840h24v4h-24zM862 2044h2v4h-2zM854 2048h10v4h-10zM850 2052h12v4h-12zM834 2056h24v4h-24zM810 2060h40v4h-40zM758 2064h16v4h-16zM798 2064h20v4h-20zM762 2068h44v4h-44zM766 2072h28v4h-28z"/>
<path fill="#38ffc7" d="M858 1836h6v4h-6zM826 1840h38v4h-38zM794 1844h70v4h-70zM790 1848h60v4h-60zM782 1852h28v4h-28zM778 1856h8v4h-8zM770 1860h4v4h-4zM862 2028h2v4h-2zM858 2032h6v4h-6zM854 2036h10v4h-10zM850 2040h14v4h-14zM846 2044h16v4h-16zM838 2048h16v4h-16zM750 2052h8v4h-8zM818 2052h32v4h-32zM754 2056h32v4h-32zM806 2056h28v4h-28zM754 2060h56v4h-56zM774 2064h24v4h-24z"/>
<path fill="#28ffd7" d="M850 1848h14v4h-14zM810 1852h54v4h-54zM786 1856h78v4h-78zM774 1860h48v4h-48zM766 1864h32v4h-32zM762 1868h24v4h-24zM758 1872h16v4h-16zM754 1876h12v4h-12zM754 1880h4v4h-4zM750 1884h4v4h-4zM746 1888h4v4h-4zM730 1916h4v4h-4zM730 1920h4v4h-4zM730 1924h4v4h-4zM726 1928h8v4h-8zM726 1932h8v4h-8zM726 1936h8v4h-8zM726 1940h4v4h-4zM726 1944h4v4h-4zM722 1948h8v4h-8zM722 1952h8v4h-8zM722 1956h8v4h-8zM722 1960h8v4h-8zM722 1964h8v4h-8zM722 1968h8v4h-8zM722 1972h8v4h-8zM722 1976h4v4h-4zM722 1980h4v4h-4zM722 1984h8v4h-8zM722 1988h8v4h-8zM726 1992h4v4h-4zM726 1996h4v4h-4zM726 2000h4v4h-4zM726 2004h4v4h-4zM726 2008h8v4h-8zM730 2012h4v4h-4zM862 2012h2v4h-2zM730 2016h4v4h-4zM858 2016h6v4h-6zM730 2020h8v4h-8zM854 2020h10v4h-10zM734 2024h4v4h-4zM850 2024h14v4h-14zM734 2028h8v4h-8zM850 2028h12v4h-12zM738 2032h4v4h-4zM846 2032h12v4h-12zM738 2036h8v4h-8zM842 2036h12v4h-12zM742 2040h12v4h-12zM834 2040h16v4h-16zM746 2044h16v4h-16zM826 2044h20v4h-20zM746 2048h40v4h-40zM814 2048h24v4h-24zM758 2052h60v4h-60zM786 2056h20v4h-20z"/>
<path fill="#18ffe7" d="M822 1860h42v4h-42zM798 1864h66v4h-66zM786 1868h36v4h-36zM774 1872h24v4h-24zM766 1876h24v4h-24zM758 1880h24v4h-24zM754 1884h20v4h-20zM750 1888h16v4h-16zM746 1892h16v4h-16zM742 1896h12v4h-12zM738 1900h16v4h-16zM738 1904h12v4h-12zM734 1908h12v4h-12zM734 1912h12v4h-12zM734 1916h12v4h-12zM734 1920h12v4h-12zM734 1924h12v4h-12zM734 1928h12v4h-12zM734 1932h12v4h-12zM734 1936h12v4h-12zM730 1940h16v4h-16zM730 1944h16v4h-16zM730 1948h16v4h-16zM730 1952h12v4h-12zM730 1956h12v4h-12zM730 1960h12v4h-12zM730 1964h12v4h-12zM730 1968h12v4h-12zM730 1972h12v4h-12zM726 1976h16v4h-16zM726 1980h16v4h-16zM730 1984h12v4h-12zM730 1988h12v4h-12zM730 1992h12v4h-12zM730 1996h12v4h-12zM862 1996h2v4h-2zM730 2000h12v4h-12zM858 2000h6v4h-6zM730 2004h16v4h-16zM854 2004h10v4h-10zM734 2008h12v4h-12zM850 2008h14v4h-14zM734 2012h12v4h-12zM846 2012h16v4h-16zM734 2016h12v4h-12zM846 2016h12v4h-12zM738 2020h12v4h-12zM842 2020h12v4h-12zM738 2024h12v4h-12zM838 2024h12v4h-12zM742 2028h12v4h-12zM838 2028h12v4h-12zM742 2032h16v4h-16zM834 2032h12v4h-12zM746 2036h20v4h-20zM826 2036h16v4h-16zM754 2040h24v4h-24zM822 2040h12v4h-12zM762 2044h28v4h-28zM810 2044h16v4h-16zM786 2048h28v4h-28z"/>
<path fill="#08fff7" d="M822 1868h42v4h-42zM798 1872h66v4h-66zM790 1876h28v4h-28zM782 1880h16v4h-16zM774 1884h16v4h-16zM766 1888h16v4h-16zM762 1892h16v4h-16zM754 1896h16v4h-16zM754 1900h12v4h-12zM750 1904h12v4h-12zM746 1908h12v4h-12zM746 1912h12v4h-12zM746 1916h8v4h-8zM746 1920h8v4h-8zM746 1924h8v4h-8zM746 1928h8v4h-8zM746 1932h8v4h-8zM746 1936h8v4h-8zM746 1940h8v4h-8zM746 1944h8v4h-8zM746 1948h12v4h-12zM742 1952h16v4h-16zM742 1956h16v4h-16zM742 1960h16v4h-16zM742 1964h12v4h-12zM742 1968h12v4h-12zM742 1972h12v4h-12zM742 1976h12v4h-12zM742 1980h12v4h-12zM858 1980h6v4h-6zM742 1984h12v4h-12zM850 1984h14v4h-14zM742 1988h12v4h-12zM846 1988h18v4h-18zM742 1992h12v4h-12zM846 1992h18v4h-18zM742 1996h12v4h-12zM842 1996h20v4h-20zM742 2000h12v4h-12zM842 2000h16v4h-16zM746 2004h8v4h-8zM842 2004h12v4h-12zM746 2008h12v4h-12zM838 2008h12v4h-12zM746 2012h12v4h-12zM838 2012h8v4h-8zM746 2016h16v4h-16zM834 2016h12v4h-12zM750 2020h12v4h-12zM834 2020h8v4h-8zM750 2024h16v4h-16zM830 2024h8v4h-8zM754 2028h16v4h-16zM826 2028h12v4h-12zM758 2032h20v4h-20zM822 2032h12v4h-12zM766 2036h20v4h-20zM814 2036h12v4h-12zM778 2040h20v4h-20zM806 2040h16v4h-16zM790 2044h20v4h-20z"/>
<path fill="#00f7ff" d="M818 1876h46v4h-46zM798 1880h66v4h-66zM790 1884h20v4h-20zM850 1884h14v4h-14zM782 1888h12v4h-12zM778 1892h12v4h-12zM770 1896h12v4h-12zM766 1900h12v4h-12zM762 1904h12v4h-12zM758 1908h12v4h-12zM758 1912h8v4h-8zM754 1916h12v4h-12zM754 1920h8v4h-8zM754 1924h8v4h-8zM754 1928h8v4h-8zM754 1932h8v4h-8zM754 1936h12v4h-12zM754 1940h12v4h-12zM754 1944h16v4h-16zM758 1948h40v4h-40zM758 1952h44v4h-44zM758 1956h40v4h-40zM758 1960h32v4h-32zM754 1964h20v4h-20zM862 1964h2v4h-2zM754 1968h16v4h-16zM850 1968h14v4h-14zM754 1972h12v4h-12zM842 1972h22v4h-22zM754 1976h12v4h-12zM834 1976h30v4h-30zM754 1980h12v4h-12zM834 1980h24v4h-24zM754 1984h12v4h-12zM830 1984h20v4h-20zM754 1988h12v4h-12zM830 1988h16v4h-16zM754 1992h12v4h-12zM830 1992h16v4h-16zM754 1996h12v4h-12zM830 1996h12v4h-12zM754 2000h12v4h-12zM830 2000h12v4h-12zM754 2004h16v4h-16zM830 2004h12v4h-12zM758 2008h12v4h-12zM826 2008h12v4h-12zM758 2012h16v4h-16zM826 2012h12v4h-12zM762 2016h16v4h-16zM822 2016h12v4h-12zM762 2020h20v4h-20zM822 2020h12v4h-12zM766 2024h16v4h-16zM818 2024h12v4h-12zM770 2028h16v4h-16zM814 2028h12v4h-12zM778 2032h12v4h-12zM810 2032h12v4h-12zM786 2036h28v4h-28zM798 2040h8v4h-8z"/>
<path fill="#00e7ff" d="M810 1884h40v4h-40zM794 1888h70v4h-70zM790 1892h12v4h-12zM806 1892h58v4h-58zM782 1896h12v4h-12zM858 1896h6v4h-6zM778 1900h12v4h-12zM774 1904h12v4h-12zM770 1908h12v4h-12zM766 1912h12v4h-12zM766 1916h8v4h-8zM762 1920h12v4h-12zM762 1924h12v4h-12zM762 1928h12v4h-12zM762 1932h12v4h-12zM766 1936h44v4h-44zM766 1940h48v4h-48zM770 1944h48v4h-48zM798 1948h24v4h-24zM802 1952h20v4h-20zM858 1952h6v4h-6zM798 1956h32v4h-32zM842 1956h22v4h-22zM790 1960h74v4h-74zM774 1964h88v4h-88zM770 1968h80v4h-80zM766 1972h20v4h-20zM810 1972h32v4h-32zM766 1976h16v4h-16zM814 1976h20v4h-20zM766 1980h12v4h-12zM814 1980h20v4h-20zM766 1984h12v4h-12zM818 1984h12v4h-12zM766 1988h12v4h-12zM818 1988h12v4h-12zM766 1992h12v4h-12zM818 1992h12v4h-12zM766 1996h12v4h-12zM814 1996h16v4h-16zM766 2000h16v4h-16zM814 2000h16v4h-16zM770 2004h16v4h-16zM814 2004h16v4h-16zM770 2008h24v4h-24zM814 2008h12v4h-12zM774 2012h24v4h-24zM810 2012h16v4h-16zM778 2016h20v4h-20zM810 2016h12v4h-12zM782 2020h16v4h-16zM810 2020h12v4h-12zM782 2024h16v4h-16zM806 2024h12v4h-12zM786 2028h28v4h-28zM790 2032h20v4h-20z"/>
<path fill="#00d7ff" d="M802 1892h4v4h-4zM794 1896h64v4h-64zM790 1900h74v4h-74zM786 1904h78v4h-78zM782 1908h56v4h-56zM850 1908h14v4h-14zM778 1912h52v4h-52zM858 1912h6v4h-6zM774 1916h56v4h-56zM862 1916h2v4h-2zM774 1920h56v4h-56zM862 1920h2v4h-2zM774 1924h56v4h-56zM862 1924h2v4h-2zM774 1928h56v4h-56zM862 1928h2v4h-2zM774 1932h60v4h-60zM862 1932h2v4h-2zM810 1936h28v4h-28zM858 1936h6v4h-6zM814 1940h50v4h-50zM818 1944h46v4h-46zM822 1948h42v4h-42zM822 1952h36v4h-36zM830 1956h12v4h-12zM786 1972h24v4h-24zM782 1976h32v4h-32zM778 1980h36v4h-36zM778 1984h40v4h-40zM778 1988h40v4h-40zM778 1992h40v4h-40zM778 1996h36v4h-36zM782 2000h32v4h-32zM786 2004h28v4h-28zM794 2008h20v4h-20zM798 2012h12v4h-12zM798 2016h12v4h-12zM798 2020h12v4h-12zM798 2024h8v4h-8z"/>
<path fill="#00c7ff" d="M838 1908h12v4h-12zM830 1912h28v4h-28zM830 1916h32v4h-32zM830 1920h32v4h-32zM830 1924h32v4h-32zM830 1928h32v4h-32zM834 1932h28v4h-28zM838 1936h20v4h-20z"/>
<path fill="#58ffa7" d="M862 2052h2v4h-2zM858 2056h6v4h-6zM850 2060h12v4h-12zM818 2064h40v4h-40zM806 2068h44v4h-44zM794 2072h20v4h-20zM770 2076h32v4h-32zM778 2080h8v4h-8z"/>
<path fill="#68ff97" d="M862 2060h2v4h-2zM858 2064h6v4h-6zM850 2068h8v4h-8zM814 2072h40v4h-40zM802 2076h16v4h-16zM786 2080h20v4h-20zM782 2084h12v4h-12z"/>
<path fill="#78ff87" d="M858 2068h6v4h-6zM854 2072h8v4h-8zM818 2076h36v4h-36zM806 2080h16v4h-16zM794 2084h16v4h-16zM790 2088h8v4h-8z"/>
<path fill="#87ff78" d="M862 2072h2v4h-2zM854 2076h8v4h-8zM822 2080h28v4h-28zM810 2084h12v4h-12zM798 2088h12v4h-12zM794 2092h4v4h-4z"/>
<path fill="#97ff68" d="M862 2076h2v4h-2zM850 2080h12v4h-12zM822 2084h20v4h-20zM810 2088h12v4h-12zM798 2092h12v4h-12z"/>
<path fill="#a7ff58" d="M862 2080h2v4h-2zM842 2084h16v4h-16zM822 2088h16v4h-16zM810 2092h12v4h-12zM802 2096h12v4h-12z"/>
<path fill="#b7ff48" d="M858 2084h6v4h-6zM838 2088h12v4h-12zM822 2092h12v4h-12zM814 2096h8v4h-8zM810 2100h4v4h-4z"/>
<path fill="#c7ff38" d="M850 2088h14v4h-14zM834 2092h12v4h-12zM822 2096h12v4h-12zM814 2100h8v4h-8z"/>
<path fill="#d7ff28" d="M846 2092h16v4h-16zM834 2096h8v4h-8zM822 2100h8v4h-8z"/>
<path fill="#e7ff18" d="M862 2092h2v4h-2zM842 2096h12v4h-12zM830 2100h8v4h-8zM822 2104h8v4h-8z"/>
<path fill="#f7ff08" d="M854 2096h10v4h-10zM838 2100h12v4h-12zM830 2104h8v4h-8z"/>
<path fill="#fff700" d="M850 2100h14v4h-14zM838 2104h12v4h-12z"/>
<path fill="#ffe700" d="M850 2104h14v4h-14zM842 2108h8v4h-8z"/>
<path fill="#ffd700" d="M850 2108h14v4h-14z"/>
<path fill="#28ffd7" d="M864 1828h22v4h-22zM864 1832h22v4h-22zM974 2048h8v4h-8zM958 2052h20v4h-20zM942 2056h32v4h-32zM864 2060h6v4h-6zM930 2060h44v4h-44zM864 2064h30v4h-30zM910 2064h60v4h-60zM864 2068h102v4h-102zM864 2072h86v4h-86zM882 2076h52v4h-52z"/>
<path fill="#18ffe7" d="M886 1832h20v4h-20zM864 1836h54v4h-54zM864 1840h62v4h-62zM864 1844h34v4h-34zM864 1848h14v4h-14zM994 2016h4v4h-4zM990 2020h8v4h-8zM982 2024h12v4h-12zM974 2028h20v4h-20zM966 2032h24v4h-24zM950 2036h40v4h-40zM930 2040h56v4h-56zM864 2044h14v4h-14zM914 2044h68v4h-68zM864 2048h110v4h-110zM864 2052h94v4h-94zM864 2056h78v4h-78zM870 2060h60v4h-60zM894 2064h16v4h-16z"/>
<path fill="#08fff7" d="M898 1844h36v4h-36zM878 1848h60v4h-60zM864 1852h82v4h-82zM864 1856h86v4h-86zM864 1860h22v4h-22zM930 1860h28v4h-28zM938 1864h24v4h-24zM946 1868h20v4h-20zM950 1872h20v4h-20zM954 1876h20v4h-20zM958 1880h16v4h-16zM966 1884h12v4h-12zM970 1888h12v4h-12zM974 1892h8v4h-8zM978 1896h8v4h-8zM982 1900h8v4h-8zM986 1904h4v4h-4zM986 1908h8v4h-8zM990 1912h4v4h-4zM990 1916h8v4h-8zM994 1920h4v4h-4zM994 1924h4v4h-4zM994 1928h8v4h-8zM998 1932h4v4h-4zM998 1936h4v4h-4zM998 1940h4v4h-4zM998 1944h4v4h-4zM1002 1948h4v4h-4zM1002 1952h4v4h-4zM1002 1956h4v4h-4zM1002 1960h4v4h-4zM1002 1964h4v4h-4zM998 1968h8v4h-8zM998 1972h8v4h-8zM994 1976h12v4h-12zM990 1980h16v4h-16zM986 1984h20v4h-20zM982 1988h24v4h-24zM978 1992h24v4h-24zM978 1996h24v4h-24zM974 2000h28v4h-28zM970 2004h32v4h-32zM966 2008h36v4h-36zM962 2012h36v4h-36zM950 2016h44v4h-44zM894 2020h96v4h-96zM878 2024h104v4h-104zM864 2028h110v4h-110zM864 2032h102v4h-102zM864 2036h86v4h-86zM864 2040h66v4h-66zM878 2044h36v4h-36z"/>
<path fill="#00f7ff" d="M886 1860h44v4h-44zM864 1864h74v4h-74zM864 1868h82v4h-82zM864 1872h86v4h-86zM864 1876h10v4h-10zM922 1876h32v4h-32zM930 1880h28v4h-28zM938 1884h28v4h-28zM942 1888h28v4h-28zM946 1892h28v4h-28zM950 1896h28v4h-28zM958 1900h24v4h-24zM962 1904h24v4h-24zM962 1908h24v4h-24zM966 1912h24v4h-24zM970 1916h20v4h-20zM970 1920h24v4h-24zM970 1924h24v4h-24zM974 1928h20v4h-20zM974 1932h24v4h-24zM974 1936h24v4h-24zM974 1940h24v4h-24zM974 1944h24v4h-24zM974 1948h28v4h-28zM974 1952h28v4h-28zM974 1956h28v4h-28zM974 1960h28v4h-28zM970 1964h32v4h-32zM970 1968h28v4h-28zM966 1972h32v4h-32zM962 1976h32v4h-32zM962 1980h28v4h-28zM958 1984h28v4h-28zM954 1988h28v4h-28zM950 1992h28v4h-28zM942 1996h36v4h-36zM898 2000h76v4h-76zM886 2004h84v4h-84zM866 2008h100v4h-100zM864 2012h98v4h-98zM864 2016h86v4h-86zM864 2020h30v4h-30zM864 2024h14v4h-14z"/>
<path fill="#00e7ff" d="M874 1876h48v4h-48zM864 1880h66v4h-66zM864 1884h74v4h-74zM864 1888h78v4h-78zM864 1892h10v4h-10zM910 1892h36v4h-36zM922 1896h28v4h-28zM926 1900h32v4h-32zM934 1904h28v4h-28zM938 1908h24v4h-24zM942 1912h24v4h-24zM946 1916h24v4h-24zM950 1920h20v4h-20zM950 1924h20v4h-20zM954 1928h20v4h-20zM954 1932h20v4h-20zM954 1936h20v4h-20zM954 1940h20v4h-20zM954 1944h20v4h-20zM954 1948h20v4h-20zM954 1952h20v4h-20zM950 1956h24v4h-24zM950 1960h24v4h-24zM950 1964h20v4h-20zM946 1968h24v4h-24zM942 1972h24v4h-24zM942 1976h20v4h-20zM934 1980h28v4h-28zM922 1984h36v4h-36zM898 1988h56v4h-56zM878 1992h72v4h-72zM864 1996h78v4h-78zM864 2000h34v4h-34zM864 2004h22v4h-22zM864 2008h2v4h-2z"/>
<path fill="#00d7ff" d="M874 1892h36v4h-36zM864 1896h58v4h-58zM864 1900h62v4h-62zM864 1904h70v4h-70zM864 1908h74v4h-74zM864 1912h6v4h-6zM902 1912h40v4h-40zM910 1916h36v4h-36zM914 1920h36v4h-36zM918 1924h32v4h-32zM922 1928h32v4h-32zM922 1932h32v4h-32zM926 1936h28v4h-28zM926 1940h28v4h-28zM926 1944h28v4h-28zM926 1948h28v4h-28zM926 1952h28v4h-28zM926 1956h24v4h-24zM922 1960h28v4h-28zM918 1964h32v4h-32zM914 1968h32v4h-32zM906 1972h36v4h-36zM864 1976h6v4h-6zM894 1976h48v4h-48zM864 1980h70v4h-70zM864 1984h58v4h-58zM864 1988h34v4h-34zM864 1992h14v4h-14z"/>
<path fill="#00c7ff" d="M870 1912h32v4h-32zM864 1916h46v4h-46zM864 1920h50v4h-50zM864 1924h54v4h-54zM864 1928h58v4h-58zM864 1932h58v4h-58zM864 1936h62v4h-62zM864 1940h62v4h-62zM864 1944h62v4h-62zM864 1948h62v4h-62zM864 1952h62v4h-62zM864 1956h62v4h-62zM864 1960h58v4h-58zM864 1964h54v4h-54zM864 1968h50v4h-50zM864 1972h42v4h-42zM870 1976h24v4h-24z"/>
<path fill="#38ffc7" d="M950 2072h12v4h-12zM864 2076h18v4h-18zM934 2076h24v4h-24zM864 2080h86v4h-86zM864 2084h82v4h-82zM874 2088h64v4h-64zM910 2092h16v4h-16z"/>
<path fill="#48ffb7" d="M864 2088h10v4h-10zM864 2092h46v4h-46zM926 2092h8v4h-8zM864 2096h62v4h-62zM864 2100h54v4h-54zM902 2104h4v4h-4z"/>
<path fill="#58ffa7" d="M864 2104h38v4h-38zM864 2108h22v4h-22z"/>
</g>
<path fill="none" stroke="#262626" stroke-opacity="0.75" stroke-width="0.85" d="M866.0 1886.6 863.4 1886.0 860.0 1885.3 856.0 1884.7 852.0 1884.3 848.2 1884.0 846.0 1883.9 842.0 1883.8 838.0 1883.8 834.0 1883.8 830.0 1883.9 826.8 1884.0 824.0 1884.1 820.0 1884.2 816.0 1884.3 812.0 1884.4 808.0 1884.7 804.0 1885.3 800.9 1886.0 798.0 1887.0 795.7 1888.0 792.3 1890.0 790.0 1891.6 788.0 1893.1 786.0 1894.6 784.0 1896.0 781.1 1898.0 778.2 1900.0 776.0 1901.6 774.0 1903.2 772.0 1904.9 770.0 1906.8 768.0 1909.1 766.0 1911.8 764.7 1914.0 763.7 1916.0 762.3 1920.0 761.8 1922.0 761.3 1926.0 761.4 1930.0 761.9 1934.0 762.4 1936.0 763.7 1940.0 764.6 1942.0 766.0 1944.6 768.0 1947.7 769.8 1950.0 771.7 1952.0 773.7 1954.0 775.3 1956.0 774.0 1958.9 772.0 1961.7 770.4 1964.0 769.1 1966.0 767.9 1968.0 766.0 1971.9 765.1 1974.0 764.0 1977.3 763.3 1980.0 762.6 1984.0 762.3 1988.0 762.4 1992.0 762.9 1996.0 763.8 2000.0 764.3 2002.0 765.8 2006.0 766.7 2008.0 768.0 2010.4 770.0 2013.6 771.8 2016.0 773.4 2018.0 775.2 2020.0 777.0 2022.0 778.9 2024.0 780.8 2026.0 782.7 2028.0 784.7 2030.0 787.0 2032.0 789.6 2034.0 792.0 2035.5 794.0 2036.4 798.0 2037.6 802.0 2037.8 806.0 2037.1 808.8 2036.0 812.0 2034.3 814.0 2032.9 816.0 2031.3 818.0 2029.4 820.0 2027.2 822.0 2024.6 823.7 2022.0 824.8 2020.0 826.0 2017.7 827.6 2014.0 828.4 2012.0 829.7 2008.0 830.3 2006.0 831.2 2002.0 831.9 1998.0 832.2 1996.0 832.9 1992.0 833.7 1988.0 834.3 1986.0 836.0 1982.5 837.9 1980.0 840.0 1978.0 842.0 1976.7 844.0 1975.5 847.3 1974.0 850.0 1972.9 852.4 1972.0 856.0 1970.6 858.0 1969.9 862.0 1968.3 864.0 1967.4M794.0 1958.1 790.0 1959.3 786.0 1958.9 782.8 1958.0 780.3 1956.0 782.0 1953.6 784.0 1952.0 788.0 1950.2 790.0 1949.8 792.5 1950.0 795.8 1952.0 796.5 1954.0 796.0 1956.1 794.0 1958.1M866.0 1859.5 862.0 1859.6 858.0 1859.7 854.0 1859.9 852.0 1860.1 848.0 1860.3 844.0 1860.6 840.0 1860.9 836.0 1861.2 832.0 1861.6 828.0 1862.0 826.0 1862.2 822.0 1862.7 818.0 1863.3 814.0 1864.0 812.0 1864.3 808.0 1865.1 804.0 1865.8 802.0 1866.1 798.0 1866.8 794.0 1867.8 792.0 1868.3 788.0 1869.7 786.0 1870.5 782.6 1872.0 780.0 1873.2 778.0 1874.2 774.3 1876.0 772.0 1877.1 770.0 1878.1 766.1 1880.0 764.0 1881.1 762.0 1882.2 759.0 1884.0 756.0 1885.9 754.0 1887.4 752.0 1889.0 750.0 1890.7 748.0 1892.6 746.0 1894.8 744.0 1897.3 742.1 1900.0 740.8 1902.0 739.8 1904.0 738.0 1907.8 737.2 1910.0 736.0 1913.7 735.4 1916.0 734.7 1920.0 734.2 1924.0 734.0 1927.4 733.9 1930.0 733.8 1934.0 733.8 1938.0 733.5 1942.0 733.1 1946.0 732.6 1950.0 732.0 1954.0 731.7 1956.0 731.2 1960.0 730.6 1964.0 730.2 1968.0 730.0 1970.0 729.7 1974.0 729.5 1978.0 729.5 1982.0 729.6 1986.0 730.0 1990.0 730.2 1992.0 730.7 1996.0 731.5 2000.0 732.0 2002.4 732.8 2006.0 733.8 2010.0 734.4 2012.0 735.5 2016.0 736.1 2018.0 737.6 2022.0 738.4 2024.0 740.0 2027.2 741.6 2030.0 743.0 2032.0 744.5 2034.0 746.3 2036.0 748.5 2038.0 751.1 2040.0 754.0 2041.8 756.0 2042.8 758.7 2044.0 762.0 2045.1 766.0 2045.9 768.0 2046.1 772.0 2046.4 776.0 2046.7 780.0 2047.5 782.0 2048.2 786.0 2049.7 788.0 2050.5 792.0 2051.6 794.0 2052.0 798.0 2052.4 802.0 2052.2 804.0 2051.9 808.0 2051.1 811.8 2050.0 814.0 2049.3 817.9 2048.0 820.0 2047.3 823.7 2046.0 826.0 2045.2 829.0 2044.0 832.0 2042.7 834.0 2041.6 836.7 2040.0 839.5 2038.0 841.7 2036.0 843.7 2034.0 845.5 2032.0 847.0 2030.0 848.5 2028.0 850.0 2026.0 852.0 2023.4 854.0 2021.1 856.0 2018.9 858.0 2016.7 860.0 2014.6 862.0 2012.5 864.0 2010.5 866.0 2008.6M858.5 1830.0 856.0 1830.6 852.0 1831.6 850.0 1832.1 846.0 1833.0 842.0 1833.7 839.7 1834.0 836.0 1834.3 832.0 1834.5 828.0 1834.6 824.0 1834.7 820.0 1834.7 816.0 1834.7 812.0 1834.8 808.0 1834.8 804.0 1834.9 800.0 1835.0 796.0 1835.1 792.0 1835.4 788.0 1835.8 786.0 1836.1 782.0 1836.7 778.0 1837.4 775.5 1838.0 772.0 1838.8 768.0 1839.9 766.0 1840.5 762.0 1841.8 760.0 1842.4 756.0 1843.9 754.0 1844.7 750.7 1846.0 748.0 1847.1 746.0 1848.0 742.0 1850.0 740.0 1851.0 738.0 1852.0 734.5 1854.0 732.0 1855.5 730.0 1856.8 728.0 1858.2 725.4 1860.0M724.0 2056.0 726.0 2057.3 728.0 2058.6 730.5 2060.0 734.0 2061.9 736.0 2062.8 738.7 2064.0 742.0 2065.3 744.0 2066.0 748.0 2067.3 750.6 2068.0 754.0 2068.9 758.0 2069.7 760.0 2070.2 764.0 2070.9 768.0 2071.7 770.0 2072.0 774.0 2072.7 778.0 2073.2 782.0 2073.0 786.0 2072.4 788.1 2072.0 792.0 2071.2 796.0 2070.3 798.0 2069.8 802.0 2068.7 804.5 2068.0 808.0 2066.9 810.6 2066.0 814.0 2064.8 816.6 2064.0 820.0 2063.1 824.0 2062.4 828.0 2062.3 832.0 2062.3 836.0 2062.3 840.0 2062.1 842.0 2061.9 846.0 2061.0 848.7 2060.0 852.0 2058.3 854.0 2057.1 856.0 2055.7 858.2 2054.0 860.6 2052.0 862.8 2050.0 865.0 2048.0M724.0 2084.8 728.0 2086.0 730.0 2086.5 734.0 2087.5 736.2 2088.0 740.0 2088.8 744.0 2089.5 747.3 2090.0 750.0 2090.4 754.0 2090.8 758.0 2091.1 762.0 2091.4 766.0 2091.4 770.0 2091.4 774.0 2091.2 778.0 2090.7 782.0 2090.1 784.0 2089.7 788.0 2088.8 791.0 2088.0 794.0 2087.1 797.7 2086.0 800.0 2085.2 803.8 2084.0 806.0 2083.3 809.9 2082.0 812.0 2081.3 816.0 2080.1 818.0 2079.6 822.0 2078.7 826.0 2078.0 828.0 2077.8 832.0 2077.4 836.0 2077.3 840.0 2077.1 844.0 2077.0 848.0 2076.6 850.6 2076.0 854.0 2074.6 856.0 2073.6 859.1 2072.0 862.0 2070.3 864.0 2069.1 866.0 2067.8M724.0 2106.7 728.0 2107.2 732.0 2107.5 736.0 2107.8 739.3 2108.0 742.0 2108.1 746.0 2108.1 750.0 2108.1 753.5 2108.0 756.0 2107.9 760.0 2107.6 764.0 2107.2 768.0 2106.7 772.0 2106.1 774.0 2105.7 778.0 2104.9 781.8 2104.0 784.0 2103.4 788.0 2102.3 790.0 2101.7 794.0 2100.4 796.0 2099.7 800.0 2098.3 802.0 2097.5 806.0 2096.1 808.0 2095.3 811.5 2094.0 814.0 2093.1 817.2 2092.0 820.0 2091.1 823.6 2090.0 826.0 2089.3 830.0 2088.3 832.0 2087.9 836.0 2087.1 840.0 2086.4 843.0 2086.0 846.0 2085.5 850.0 2084.8 853.7 2084.0 856.0 2083.4 860.0 2082.1 862.0 2081.4 865.6 2080.0M801.4 2110.0 804.0 2108.9 806.1 2108.0 810.0 2106.3 812.0 2105.4 815.2 2104.0 818.0 2102.8 820.0 2101.9 824.0 2100.2 826.0 2099.4 829.8 2098.0 832.0 2097.2 835.4 2096.0 838.0 2095.2 842.0 2094.0 844.0 2093.5 848.0 2092.7 851.6 2092.0 854.0 2091.6 858.0 2090.8 862.0 2090.0 864.0 2089.6M826.2 2110.0 830.0 2108.1 832.0 2107.1 834.3 2106.0 838.0 2104.3 840.0 2103.4 843.4 2102.0 846.0 2101.1 849.9 2100.0 852.0 2099.7 856.0 2099.2 860.0 2098.7 864.0 2098.2 866.0 2098.0M862.0 1981.8 864.0 1982.4 868.0 1983.3 872.0 1983.9 874.0 1984.1 878.0 1984.3 882.0 1984.3 885.5 1984.0 888.0 1983.7 892.0 1982.9 895.4 1982.0 898.0 1981.2 902.0 1980.0 904.0 1979.3 908.0 1978.1 910.0 1977.4 914.0 1976.1 916.0 1975.4 919.7 1974.0 922.0 1972.9 924.0 1971.8 926.6 1970.0 928.7 1968.0 930.3 1966.0 932.0 1963.2 933.5 1960.0 934.2 1958.0 935.3 1954.0 935.9 1950.0 936.1 1948.0 936.1 1944.0 935.9 1942.0 935.2 1938.0 934.0 1934.0 933.2 1932.0 932.0 1929.7 930.0 1926.5 928.1 1924.0 926.4 1922.0 924.6 1920.0 922.5 1918.0 920.2 1916.0 918.0 1914.3 916.0 1912.9 914.0 1911.6 911.0 1910.0 908.0 1908.6 906.0 1907.8 902.0 1906.5 900.0 1906.0 896.0 1905.3 892.0 1904.9 888.0 1904.8 884.0 1905.0 880.0 1905.5 877.1 1906.0 874.0 1906.7 870.0 1907.7 868.0 1908.4 864.0 1909.8 862.0 1910.7M862.0 2001.1 866.0 2001.1 870.0 2000.9 874.0 2000.5 876.9 2000.0 880.0 1999.4 884.0 1998.5 886.0 1998.0 890.0 1996.9 893.1 1996.0 896.0 1995.2 900.0 1994.3 902.0 1993.9 906.0 1993.3 910.0 1992.9 914.0 1992.7 918.0 1992.6 922.0 1992.5 926.0 1992.2 928.0 1992.0 932.0 1991.3 936.0 1990.0 938.0 1989.2 940.3 1988.0 943.3 1986.0 945.8 1984.0 947.8 1982.0 949.5 1980.0 951.1 1978.0 952.5 1976.0 954.0 1973.7 956.0 1970.3 957.2 1968.0 958.1 1966.0 959.8 1962.0 960.5 1960.0 961.6 1956.0 962.1 1954.0 962.8 1950.0 963.2 1946.0 963.3 1942.0 963.1 1938.0 962.7 1934.0 962.0 1930.4 961.4 1928.0 960.0 1924.1 959.1 1922.0 958.0 1920.0 956.0 1917.0 954.0 1914.3 952.0 1912.0 950.1 1910.0 948.1 1908.0 946.0 1906.0 944.0 1904.3 942.0 1902.6 940.0 1900.9 938.0 1899.4 936.0 1897.9 933.4 1896.0 930.4 1894.0 928.0 1892.6 926.0 1891.4 923.3 1890.0 920.0 1888.5 918.0 1887.7 914.0 1886.3 912.0 1885.8 908.0 1884.9 904.0 1884.4 900.0 1884.1 896.0 1884.1 892.0 1884.3 888.0 1884.7 884.0 1885.1 880.0 1885.6 877.6 1886.0 874.0 1886.6 870.0 1887.4 866.9 1888.0 864.0 1888.6M862.0 2019.8 866.0 2019.6 870.0 2019.2 874.0 2018.5 876.7 2018.0 880.0 2017.2 884.0 2016.0 886.0 2015.3 889.4 2014.0 892.0 2012.9 894.1 2012.0 898.0 2010.3 900.0 2009.6 904.0 2008.6 908.0 2008.6 912.0 2009.1 916.0 2009.7 918.0 2010.0 922.0 2010.6 926.0 2011.0 930.0 2011.2 934.0 2011.2 938.0 2010.9 942.0 2010.3 944.0 2009.9 948.0 2008.7 950.0 2007.9 953.7 2006.0 956.0 2004.5 958.0 2003.0 960.0 2001.2 962.0 1999.2 964.0 1996.9 966.0 1994.4 967.7 1992.0 969.1 1990.0 970.5 1988.0 972.0 1985.8 974.0 1983.2 976.0 1980.9 978.0 1978.5 980.0 1976.1 981.7 1974.0 983.1 1972.0 984.3 1970.0 986.0 1966.6 986.9 1964.0 987.8 1960.0 988.0 1958.0 988.2 1954.0 988.0 1951.2 987.7 1948.0 987.1 1944.0 986.4 1940.0 986.0 1937.2 985.5 1934.0 984.7 1930.0 984.0 1927.1 983.1 1924.0 982.0 1920.9 980.8 1918.0 979.9 1916.0 978.0 1912.5 976.5 1910.0 975.1 1908.0 973.6 1906.0 972.0 1904.0 970.0 1901.7 968.0 1899.6 966.0 1897.6 964.0 1895.7 962.0 1894.0 959.7 1892.0 957.3 1890.0 955.0 1888.0 952.6 1886.0 950.2 1884.0 948.0 1882.2 946.0 1880.6 944.0 1879.1 942.0 1877.6 939.7 1876.0 936.5 1874.0 934.0 1872.5 932.0 1871.5 928.8 1870.0 926.0 1868.9 923.5 1868.0 920.0 1867.0 916.0 1866.3 912.7 1866.0 910.0 1865.9 906.0 1865.9 904.0 1866.0 900.0 1866.4 896.0 1866.8 892.0 1867.3 888.0 1867.9 886.0 1868.2 882.0 1868.8 878.0 1869.3 874.0 1869.9 872.0 1870.2 868.0 1870.8 864.0 1871.3M1004.0 1905.0 1002.0 1902.1 1000.5 1900.0 998.9 1898.0 997.3 1896.0 995.6 1894.0 993.8 1892.0 991.9 1890.0 989.9 1888.0 987.8 1886.0 985.6 1884.0 983.3 1882.0 980.9 1880.0 978.4 1878.0 976.0 1876.1 974.0 1874.5 972.0 1873.0 970.0 1871.5 968.0 1870.0 965.4 1868.0 962.7 1866.0 960.0 1864.0 958.0 1862.6 956.0 1861.2 954.0 1859.9 950.9 1858.0 948.0 1856.3 946.0 1855.3 943.4 1854.0 940.0 1852.5 938.0 1851.7 934.0 1850.3 932.0 1849.8 928.0 1848.8 924.0 1848.2 922.0 1847.9 918.0 1847.7 914.0 1847.9 912.0 1848.1 908.0 1848.6 904.0 1849.3 900.4 1850.0 898.0 1850.5 894.0 1851.3 890.7 1852.0 888.0 1852.5 884.0 1853.2 880.0 1853.8 878.0 1854.0 874.0 1854.4 870.0 1854.8 866.0 1855.1 862.0 1855.3M862.0 2039.8 866.0 2040.0 868.0 2040.0 872.0 2040.2 876.0 2040.3 880.0 2040.4 884.0 2040.5 888.0 2040.6 892.0 2040.6 896.0 2040.6 900.0 2040.4 904.0 2040.1 906.0 2039.9 910.0 2039.2 914.0 2038.5 917.0 2038.0 920.0 2037.5 924.0 2036.8 928.0 2036.2 930.0 2035.9 934.0 2035.3 938.0 2034.7 942.0 2034.1 944.0 2033.7 948.0 2033.0 952.0 2032.3 954.0 2031.8 958.0 2030.8 960.7 2030.0 964.0 2028.8 966.0 2028.0 969.9 2026.0 972.0 2024.8 974.0 2023.6 976.4 2022.0 979.2 2020.0 981.8 2018.0 984.0 2016.2 986.0 2014.6 988.0 2012.9 990.0 2011.2 992.0 2009.4 994.0 2007.6 996.0 2005.9 998.1 2004.0 1000.3 2002.0 1002.4 2000.0M914.1 1830.0 912.0 1830.3 908.0 1831.1 904.0 1832.0 902.0 1832.5 898.0 1833.6 896.0 1834.1 892.0 1835.3 889.4 1836.0 886.0 1836.9 882.0 1837.7 879.7 1838.0 876.0 1838.2 872.0 1838.3 868.0 1838.2 864.0 1838.1M1004.0 1860.5 1002.0 1859.1 1000.0 1857.7 997.6 1856.0 994.6 1854.0 992.0 1852.3 990.0 1851.1 988.0 1849.8 984.9 1848.0 982.0 1846.3 980.0 1845.2 977.8 1844.0 974.0 1842.0 972.0 1841.0 970.0 1840.0 966.0 1838.2 964.0 1837.3 960.7 1836.0 958.0 1835.0 955.2 1834.0 952.0 1833.0 948.5 1832.0 946.0 1831.4 942.0 1830.5 938.7 1830.0M862.0 2058.6 866.0 2059.1 870.0 2059.6 873.2 2060.0 876.0 2060.4 880.0 2061.0 884.0 2061.7 886.1 2062.0 890.0 2062.6 894.0 2063.2 898.0 2063.6 902.0 2063.9 906.0 2063.8 910.0 2063.4 914.0 2062.8 917.6 2062.0 920.0 2061.4 924.0 2060.4 926.0 2059.8 930.0 2058.6 932.0 2058.0 936.0 2056.8 938.7 2056.0 942.0 2055.1 945.9 2054.0 948.0 2053.5 952.0 2052.6 954.7 2052.0 958.0 2051.3 962.0 2050.5 964.1 2050.0 968.0 2049.1 972.0 2048.0 974.0 2047.4 978.0 2046.2 980.0 2045.5 984.0 2044.0 986.0 2043.2 988.9 2042.0 992.0 2040.6 994.0 2039.7 997.5 2038.0 1000.0 2036.7 1002.0 2035.6M862.0 2075.4 866.0 2075.7 868.8 2076.0 872.0 2076.3 876.0 2076.8 880.0 2077.3 884.0 2077.9 886.0 2078.2 890.0 2078.9 894.0 2079.6 896.7 2080.0 900.0 2080.5 904.0 2080.8 908.0 2080.9 912.0 2080.7 916.0 2080.3 918.6 2080.0 922.0 2079.5 926.0 2078.8 930.0 2078.0 932.0 2077.6 936.0 2076.7 939.1 2076.0 942.0 2075.3 946.0 2074.4 948.0 2073.9 952.0 2073.0 956.0 2072.2 958.0 2071.8 962.0 2071.1 966.0 2070.4 968.2 2070.0 972.0 2069.3 976.0 2068.5 978.7 2068.0 982.0 2067.3 986.0 2066.4 988.0 2065.9 992.0 2064.9 995.2 2064.0 998.0 2063.2 1001.9 2062.0 1004.0 2061.3M862.0 2091.3 866.0 2091.3 870.0 2091.3 874.0 2091.4 878.0 2091.6 882.0 2091.8 884.6 2092.0 888.0 2092.4 892.0 2092.9 896.0 2093.5 898.9 2094.0 902.0 2094.5 906.0 2095.0 910.0 2095.4 914.0 2095.6 918.0 2095.8 922.0 2095.8 926.0 2095.7 930.0 2095.5 934.0 2095.2 938.0 2094.9 942.0 2094.5 946.0 2094.1 948.0 2093.9 952.0 2093.4 956.0 2093.0 960.0 2092.5 964.0 2092.0 966.0 2091.8 970.0 2091.3 974.0 2090.8 978.0 2090.2 980.0 2090.0 984.0 2089.4 988.0 2088.8 992.0 2088.2 994.0 2087.8 998.0 2087.1 1002.0 2086.3 1004.0 2085.9"/>
</g>
<circle cx="864" cy="1970" r="102.8" fill="none" stroke="#111" stroke-width="1.4"/>
<path d="M846 1868.0L864 1849.7L882 1868.0" fill="none" stroke="#111" stroke-width="1.5"/>
<polyline points="761.8,1951.6 759.1,1946.2 757.5,1946.0 755.1,1946.9 752.6,1951.6 753.0,1966.6 751.5,1988.2 754.6,1997.5 759.1,1999.3 763.5,1994.7" fill="none" stroke="#111" stroke-width="1.4" stroke-linejoin="round"/>
<polyline points="966.2,1951.6 968.9,1946.2 970.5,1946.0 972.9,1946.9 975.4,1951.6 975.0,1966.6 976.5,1988.2 973.4,1997.5 968.9,1999.3 964.5,1994.7" fill="none" stroke="#111" stroke-width="1.4" stroke-linejoin="round"/>
<path d="M830.4 1869.0a.9 .9 0 1 0 1.8 0a.9 .9 0 1 0 -1.8 0M895.8 1869.0a.9 .9 0 1 0 1.8 0a.9 .9 0 1 0 -1.8 0M775.1 1906.0a.9 .9 0 1 0 1.8 0a.9 .9 0 1 0 -1.8 0M951.1 1906.0a.9 .9 0 1 0 1.8 0a.9 .9 0 1 0 -1.8 0M817.6 1915.8a.9 .9 0 1 0 1.8 0a.9 .9 0 1 0 -1.8 0M908.6 1915.8a.9 .9 0 1 0 1.8 0a.9 .9 0 1 0 -1.8 0M784.6 1940.5a.9 .9 0 1 0 1.8 0a.9 .9 0 1 0 -1.8 0M941.6 1940.5a.9 .9 0 1 0 1.8 0a.9 .9 0 1 0 -1.8 0M808.4 1970.0a.9 .9 0 1 0 1.8 0a.9 .9 0 1 0 -1.8 0M917.8 1970.0a.9 .9 0 1 0 1.8 0a.9 .9 0 1 0 -1.8 0M753.1 1970.0a.9 .9 0 1 0 1.8 0a.9 .9 0 1 0 -1.8 0M973.1 1970.0a.9 .9 0 1 0 1.8 0a.9 .9 0 1 0 -1.8 0M837.1 1997.0a.9 .9 0 1 0 1.8 0a.9 .9 0 1 0 -1.8 0M889.1 1997.0a.9 .9 0 1 0 1.8 0a.9 .9 0 1 0 -1.8 0M784.5 2000.3a.9 .9 0 1 0 1.8 0a.9 .9 0 1 0 -1.8 0M941.7 2000.3a.9 .9 0 1 0 1.8 0a.9 .9 0 1 0 -1.8 0M732.9 2013.8a.9 .9 0 1 0 1.8 0a.9 .9 0 1 0 -1.8 0M993.3 2013.8a.9 .9 0 1 0 1.8 0a.9 .9 0 1 0 -1.8 0M817.8 2025.0a.9 .9 0 1 0 1.8 0a.9 .9 0 1 0 -1.8 0M908.4 2025.0a.9 .9 0 1 0 1.8 0a.9 .9 0 1 0 -1.8 0M775.1 2035.0a.9 .9 0 1 0 1.8 0a.9 .9 0 1 0 -1.8 0M951.1 2035.0a.9 .9 0 1 0 1.8 0a.9 .9 0 1 0 -1.8 0M830.5 2071.8a.9 .9 0 1 0 1.8 0a.9 .9 0 1 0 -1.8 0M895.7 2071.8a.9 .9 0 1 0 1.8 0a.9 .9 0 1 0 -1.8 0" fill="#111"/>
<linearGradient id="gOr" x1="0" x2="1"><stop offset="0" stop-color="#E3A62C"/><stop offset="1" stop-color="#F9A300"/></linearGradient>
<linearGradient id="gGr" x1="0" x2="1"><stop offset="0" stop-color="#40B072"/><stop offset="1" stop-color="#3A9C68"/></linearGradient>
<rect x="878.1" y="297.9" width="62.6" height="22.9" fill="url(#gGr)"/><path d="M940.2 297.9H974.2V283L1000.8 308.9L974.2 334.8V320.8H940.2z" fill="#0E2FC9"/>
<path d="M849.7 643.5H754.6V631.3L727.7 656.2L754.6 681.2V667.2H849.7z" fill="#FFA512"/>
<rect x="879.1" y="1045.1" width="40.4" height="22.9" fill="url(#gOr)"/><rect x="919" y="1045.1" width="41.8" height="22.9" fill="url(#gGr)"/><path d="M960.3 1045.1H974.3V1030L1001.5 1056.5L974.3 1083V1068H960.3z" fill="#0E2FC9"/>
<rect x="754.1" y="1396" width="13.9" height="22.3" fill="#F2A20E"/><path d="M754.6 1381.3L727.7 1407.2L754.6 1433z" fill="#E8A52A"/><rect x="767.5" y="1396" width="41.1" height="22.3" fill="url(#gGr)"/><rect x="808.1" y="1396" width="41.6" height="22.3" fill="#0E2FC9"/>
<rect x="878.9" y="1785.3" width="62.6" height="22.9" fill="url(#gGr)"/><path d="M941 1785.3H975V1770.1L1000.8 1796.0L975 1821.9V1808.2H941z" fill="#0E2FC9"/>
<path d="M849.7 2135.4H754.6V2120.6L727.7 2146.4L754.6 2172.3V2157.6H849.7z" fill="#FFA512"/>
<rect x="861" y="297.1" width="6.2" height="369.3" fill="#000"/>
<rect x="861" y="1044.7" width="6.2" height="373.6" fill="#000"/>
<rect x="861" y="1784.2" width="6.2" height="373.4" fill="#000"/>
</svg>
</body></html>
